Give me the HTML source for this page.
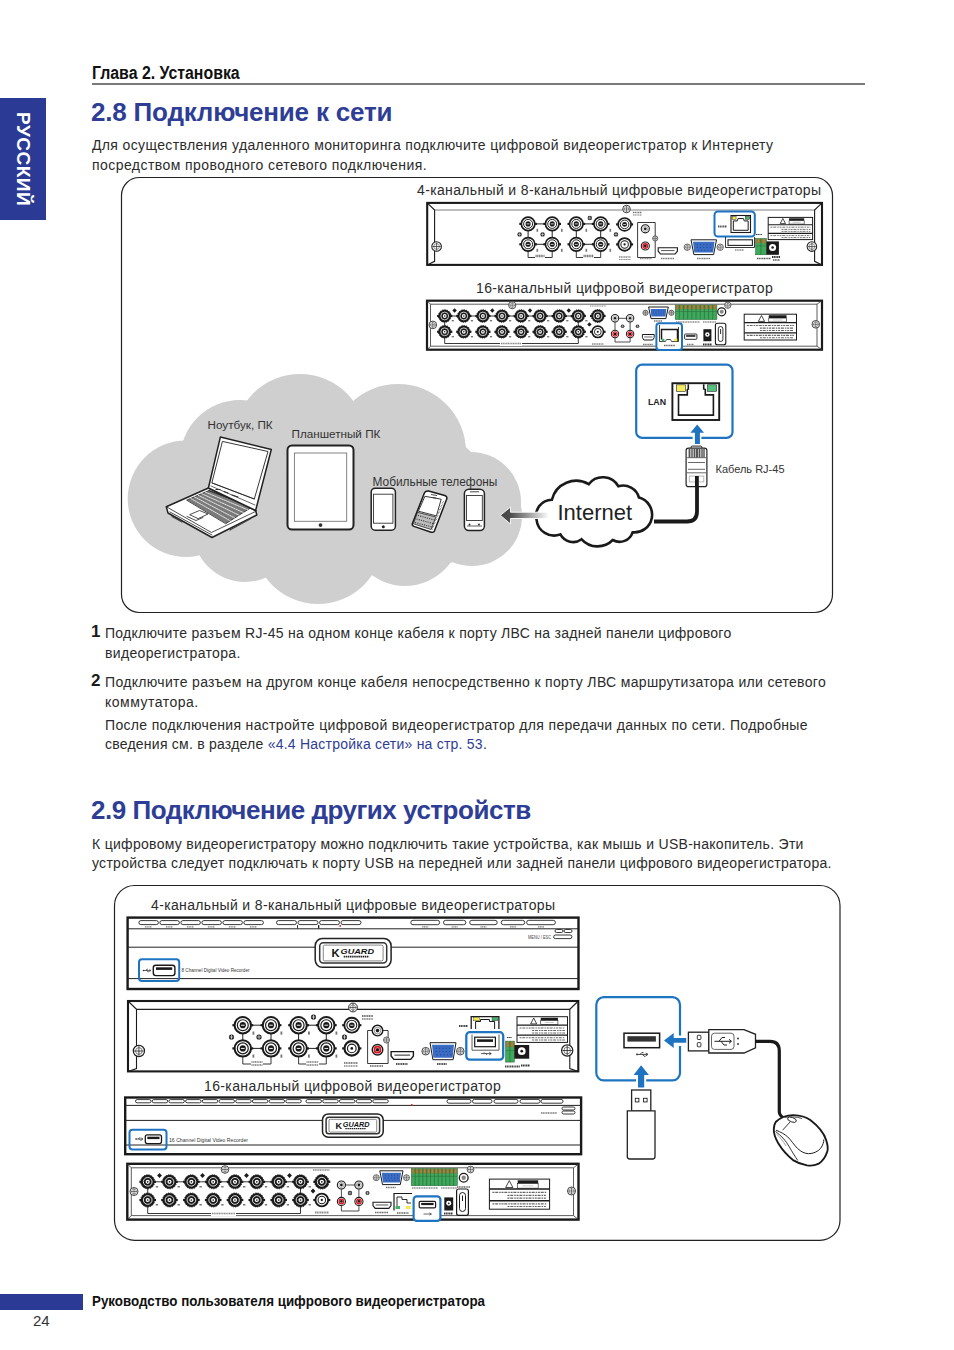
<!DOCTYPE html>
<html><head><meta charset="utf-8">
<style>
html,body{margin:0;padding:0;background:#fff;}
body{width:954px;height:1350px;position:relative;overflow:hidden;font-family:"Liberation Sans",sans-serif;color:#2a2a2a;}
.a{position:absolute;white-space:nowrap;}
.t{font-size:14px;line-height:20px;letter-spacing:0.33px;color:#2b2b2b;}
.h2{font-size:25px;font-weight:bold;color:#2e3d96;line-height:30px;}
.num{font-size:17px;font-weight:bold;color:#1a1a1a;line-height:20px;}
.cap{font-size:14px;line-height:20px;letter-spacing:0.3px;color:#2b2b2b;}
svg{position:absolute;left:0;top:0;}
</style></head><body>
<!-- side tab -->
<div class="a" style="left:0;top:98px;width:46px;height:122px;background:#2b3a94;"></div>
<div class="a" style="left:9.5px;top:112px;width:26px;height:98px;color:#fff;font-weight:bold;font-size:19px;line-height:26px;writing-mode:vertical-rl;letter-spacing:0.5px;">РУССКИЙ</div>

<!-- header -->
<div class="a" style="left:92px;top:62.6px;font-size:17.5px;font-weight:bold;line-height:20px;color:#111;transform-origin:0 0;transform:scaleX(0.907);">Глава 2. Установка</div>
<div class="a" style="left:92px;top:83px;width:773px;height:2px;background:#7a7a7a;"></div>

<div class="a h2" style="left:91px;top:96.9px;font-size:26px;letter-spacing:-0.2px;">2.8 Подключение к сети</div>
<div class="a t" style="left:92px;top:135px;letter-spacing:0.36px;">Для осуществления удаленного мониторинга подключите цифровой видеорегистратор к Интернету</div>
<div class="a t" style="left:92px;top:155px;letter-spacing:0.44px;">посредством проводного сетевого подключения.</div>

<div class="a num" style="left:91px;top:622px;">1</div>
<div class="a t" style="left:105px;top:623px;letter-spacing:0.28px;">Подключите разъем RJ-45 на одном конце кабеля к порту ЛВС на задней панели цифрового</div>
<div class="a t" style="left:105px;top:643px;">видеорегистратора.</div>
<div class="a num" style="left:91px;top:671px;">2</div>
<div class="a t" style="left:105px;top:672px;">Подключите разъем на другом конце кабеля непосредственно к порту ЛВС маршрутизатора или сетевого</div>
<div class="a t" style="left:105px;top:692px;letter-spacing:0.5px;">коммутатора.</div>
<div class="a t" style="left:105px;top:715px;">После подключения настройте цифровой видеорегистратор для передачи данных по сети. Подробные</div>
<div class="a t" style="left:105px;top:734px;letter-spacing:0.23px;">сведения см. в разделе <span style="color:#2e3d96">«4.4 Настройка сети» на стр. 53</span>.</div>

<div class="a h2" style="left:91px;top:794.8px;font-size:26px;letter-spacing:-0.48px;">2.9 Подключение других устройств</div>
<div class="a t" style="left:92px;top:834px;letter-spacing:0.30px;">К цифровому видеорегистратору можно подключить такие устройства, как мышь и USB-накопитель. Эти</div>
<div class="a t" style="left:92px;top:853px;letter-spacing:0.28px;">устройства следует подключать к порту USB на передней или задней панели цифрового видеорегистратора.</div>

<!-- footer -->
<div class="a" style="left:0;top:1294px;width:83px;height:16px;background:#2b3a94;"></div>
<div class="a" style="left:92px;top:1292px;font-size:14px;font-weight:bold;line-height:18px;color:#111;transform-origin:0 0;transform:scaleX(0.954);">Руководство пользователя цифрового видеорегистратора</div>
<div class="a" style="left:33px;top:1311.5px;font-size:15px;line-height:18px;color:#333;">24</div>

<svg width="954" height="1350" viewBox="0 0 954 1350"><rect x="121.5" y="177.5" width="711" height="435" rx="18" ry="18" fill="none" stroke="#222" stroke-width="1.2"/><rect x="427.2" y="202.9" width="394.80" height="62.00" fill="#fff" stroke="#1a1a1a" stroke-width="2.1"/><path d="M434.59999999999997 210.1H814.6" stroke="#a8a8a8" stroke-width="1.5"/><path d="M427.2 202.9L434.59999999999997 210.1V261.29999999999995L427.2 264.9" fill="none" stroke="#1a1a1a" stroke-width="1.1"/><path d="M822.0 202.9L814.6 210.1V261.29999999999995L822.0 264.9" fill="none" stroke="#1a1a1a" stroke-width="1.1"/><circle cx="436.6" cy="246.5" r="4.80" fill="#fff" stroke="#222" stroke-width="1.06"/><circle cx="436.6" cy="246.5" r="2.88" fill="none" stroke="#444" stroke-width="0.58"/><path d="M432.52 246.5H440.68M436.6 242.42V250.58" stroke="#333" stroke-width="0.77"/><circle cx="811.9" cy="246.6" r="4.80" fill="#fff" stroke="#222" stroke-width="1.06"/><circle cx="811.9" cy="246.6" r="2.88" fill="none" stroke="#444" stroke-width="0.58"/><path d="M807.82 246.6H815.98M811.9 242.52V250.68" stroke="#333" stroke-width="0.77"/><circle cx="626.5" cy="209.0" r="3.80" fill="#fff" stroke="#222" stroke-width="0.84"/><circle cx="626.5" cy="209.0" r="2.28" fill="none" stroke="#444" stroke-width="0.46"/><path d="M623.27 209.0H629.73M626.5 205.77V212.23" stroke="#333" stroke-width="0.61"/><path d="M528.1 223.9H552.2M576.3 223.9H600.7M528.1 244.3H552.2M576.3 244.3H600.7M528.1 223.9V244.3M552.2 223.9V244.3M576.3 223.9V244.3M600.7 223.9V244.3" stroke="#222" stroke-width="1"/><path d="M528.1 250V257.5H552.2V250M576.3 250V257.5H600.7V250" fill="none" stroke="#222" stroke-width="0.9"/><rect x="535" y="254.5" width="10" height="5" fill="#fff"/><rect x="583" y="254.5" width="11" height="5" fill="#fff"/><path d="M535.5 256H544.5" stroke="#777" stroke-width="2.5" stroke-dasharray="1.2 0.5"/><path d="M583.5 256H593.5" stroke="#777" stroke-width="2.5" stroke-dasharray="1.2 0.5"/><rect x="519.30" y="222.80" width="17.60" height="2.2" fill="#1a1a1a"/><circle cx="528.1" cy="223.9" r="6.75" fill="#fff" stroke="#1a1a1a" stroke-width="1.65"/><circle cx="528.1" cy="223.9" r="4.50" fill="none" stroke="#1a1a1a" stroke-width="0.98"/><circle cx="528.1" cy="223.9" r="2.55" fill="#1a1a1a"/><rect x="526.60" y="223.53" width="3.00" height="0.75" fill="#fff"/><rect x="519.30" y="243.20" width="17.60" height="2.2" fill="#1a1a1a"/><circle cx="528.1" cy="244.3" r="6.75" fill="#fff" stroke="#1a1a1a" stroke-width="1.65"/><circle cx="528.1" cy="244.3" r="4.50" fill="none" stroke="#1a1a1a" stroke-width="0.98"/><circle cx="528.1" cy="244.3" r="2.55" fill="#1a1a1a"/><rect x="526.60" y="243.93" width="3.00" height="0.75" fill="#fff"/><rect x="543.40" y="222.80" width="17.60" height="2.2" fill="#1a1a1a"/><circle cx="552.2" cy="223.9" r="6.75" fill="#fff" stroke="#1a1a1a" stroke-width="1.65"/><circle cx="552.2" cy="223.9" r="4.50" fill="none" stroke="#1a1a1a" stroke-width="0.98"/><circle cx="552.2" cy="223.9" r="2.55" fill="#1a1a1a"/><rect x="550.70" y="223.53" width="3.00" height="0.75" fill="#fff"/><rect x="543.40" y="243.20" width="17.60" height="2.2" fill="#1a1a1a"/><circle cx="552.2" cy="244.3" r="6.75" fill="#fff" stroke="#1a1a1a" stroke-width="1.65"/><circle cx="552.2" cy="244.3" r="4.50" fill="none" stroke="#1a1a1a" stroke-width="0.98"/><circle cx="552.2" cy="244.3" r="2.55" fill="#1a1a1a"/><rect x="550.70" y="243.93" width="3.00" height="0.75" fill="#fff"/><rect x="567.50" y="222.80" width="17.60" height="2.2" fill="#1a1a1a"/><circle cx="576.3" cy="223.9" r="6.75" fill="#fff" stroke="#1a1a1a" stroke-width="1.65"/><circle cx="576.3" cy="223.9" r="4.50" fill="none" stroke="#1a1a1a" stroke-width="0.98"/><circle cx="576.3" cy="223.9" r="2.55" fill="#1a1a1a"/><rect x="574.80" y="223.53" width="3.00" height="0.75" fill="#fff"/><rect x="567.50" y="243.20" width="17.60" height="2.2" fill="#1a1a1a"/><circle cx="576.3" cy="244.3" r="6.75" fill="#fff" stroke="#1a1a1a" stroke-width="1.65"/><circle cx="576.3" cy="244.3" r="4.50" fill="none" stroke="#1a1a1a" stroke-width="0.98"/><circle cx="576.3" cy="244.3" r="2.55" fill="#1a1a1a"/><rect x="574.80" y="243.93" width="3.00" height="0.75" fill="#fff"/><rect x="591.90" y="222.80" width="17.60" height="2.2" fill="#1a1a1a"/><circle cx="600.7" cy="223.9" r="6.75" fill="#fff" stroke="#1a1a1a" stroke-width="1.65"/><circle cx="600.7" cy="223.9" r="4.50" fill="none" stroke="#1a1a1a" stroke-width="0.98"/><circle cx="600.7" cy="223.9" r="2.55" fill="#1a1a1a"/><rect x="599.20" y="223.53" width="3.00" height="0.75" fill="#fff"/><rect x="591.90" y="243.20" width="17.60" height="2.2" fill="#1a1a1a"/><circle cx="600.7" cy="244.3" r="6.75" fill="#fff" stroke="#1a1a1a" stroke-width="1.65"/><circle cx="600.7" cy="244.3" r="4.50" fill="none" stroke="#1a1a1a" stroke-width="0.98"/><circle cx="600.7" cy="244.3" r="2.55" fill="#1a1a1a"/><rect x="599.20" y="243.93" width="3.00" height="0.75" fill="#fff"/><circle cx="519.6" cy="234.4" r="2.2" fill="#1a1a1a"/><path d="M517.84 234.4H521.36M519.6 232.64V236.16" stroke="#fff" stroke-width="0.55"/><circle cx="542.6" cy="234.4" r="2.2" fill="#1a1a1a"/><path d="M540.84 234.4H544.36M542.6 232.64V236.16" stroke="#fff" stroke-width="0.55"/><circle cx="589.8" cy="218.0" r="2.2" fill="#1a1a1a"/><path d="M588.04 218.0H591.56M589.8 216.24V219.76" stroke="#fff" stroke-width="0.55"/><circle cx="616.0" cy="234.4" r="2.2" fill="#1a1a1a"/><path d="M614.24 234.4H617.76M616.0 232.64V236.16" stroke="#fff" stroke-width="0.55"/><rect x="536.5" y="228.8" width="1.6" height="3" fill="#777"/><rect x="561" y="228.8" width="1.6" height="3" fill="#777"/><rect x="585.5" y="228.8" width="1.6" height="3" fill="#777"/><rect x="609.5" y="228.8" width="1.6" height="3" fill="#777"/><rect x="536.5" y="248.8" width="1.6" height="3" fill="#777"/><rect x="561" y="248.8" width="1.6" height="3" fill="#777"/><rect x="585.5" y="248.8" width="1.6" height="3" fill="#777"/><rect x="609.5" y="248.8" width="1.6" height="3" fill="#777"/><rect x="616.10" y="223.30" width="17.00" height="2.2" fill="#1a1a1a"/><circle cx="624.6" cy="224.4" r="6.48" fill="#fff" stroke="#1a1a1a" stroke-width="1.58"/><circle cx="624.6" cy="224.4" r="4.32" fill="none" stroke="#1a1a1a" stroke-width="0.94"/><circle cx="624.6" cy="224.4" r="2.45" fill="#1a1a1a"/><rect x="623.16" y="224.04" width="2.88" height="0.72" fill="#fff"/><rect x="616.10" y="243.30" width="17.00" height="2.2" fill="#1a1a1a"/><circle cx="624.6" cy="244.4" r="6.34" fill="#fff" stroke="#1a1a1a" stroke-width="1.87"/><circle cx="624.6" cy="244.4" r="3.74" fill="none" stroke="#1a1a1a" stroke-width="1.01"/><circle cx="624.6" cy="244.4" r="1.15" fill="#1a1a1a"/><path d="M633 212.5H642" stroke="#777" stroke-width="1.6" stroke-dasharray="1.2 0.5"/><path d="M633 215H642" stroke="#777" stroke-width="1.2" stroke-dasharray="1.2 0.5"/><path d="M619 257H631" stroke="#888" stroke-width="1.6" stroke-dasharray="1.2 0.5"/><path d="M619 259.5H631" stroke="#888" stroke-width="1.2" stroke-dasharray="1.2 0.5"/><path d="M637.6 222.5H655.2V257.5H637.6Z" fill="none" stroke="#222" stroke-width="0.9"/><circle cx="645.3" cy="228.8" r="4.05" fill="#fff" stroke="#1a1a1a" stroke-width="1.10"/><circle cx="645.3" cy="228.8" r="2.53" fill="none" stroke="#444" stroke-width="0.46"/><circle cx="645.3" cy="228.8" r="1.38" fill="#1a1a1a"/><circle cx="645.3" cy="246.0" r="4.05" fill="#fff" stroke="#1a1a1a" stroke-width="1.10"/><circle cx="645.3" cy="246.0" r="2.30" fill="none" stroke="#e0141e" stroke-width="1.38"/><circle cx="645.3" cy="246.0" r="1.38" fill="#1a1a1a"/><circle cx="655.2" cy="238.4" r="2.60" fill="#fff" stroke="#222" stroke-width="0.70"/><circle cx="655.2" cy="238.4" r="1.56" fill="none" stroke="#444" stroke-width="0.40"/><path d="M652.99 238.4H657.41M655.2 236.19V240.61" stroke="#333" stroke-width="0.50"/><path d="M640 258.5H652" stroke="#888" stroke-width="1.6" stroke-dasharray="1.2 0.5"/><path d="M658.2 247.8H677.4V251.21L675.10 254.0H660.50L658.2 251.21Z" fill="#fff" stroke="#1a1a1a" stroke-width="1.12"/><path d="M661.08 250.59H674.52" stroke="#1a1a1a" stroke-width="0.74"/><path d="M661 258.5H674" stroke="#777" stroke-width="1.6" stroke-dasharray="1.2 0.5"/><circle cx="687.3" cy="247.2" r="3.20" fill="#fff" stroke="#222" stroke-width="0.70"/><circle cx="687.3" cy="247.2" r="1.92" fill="none" stroke="#444" stroke-width="0.40"/><path d="M684.58 247.2H690.02M687.3 244.48V249.92" stroke="#333" stroke-width="0.51"/><circle cx="720.2" cy="247.2" r="3.20" fill="#fff" stroke="#222" stroke-width="0.70"/><circle cx="720.2" cy="247.2" r="1.92" fill="none" stroke="#444" stroke-width="0.40"/><path d="M717.48 247.2H722.92M720.2 244.48V249.92" stroke="#333" stroke-width="0.51"/><path d="M691.00 239.80H716.50L713.62 254.60H693.88Z" fill="#fff" stroke="#1a1a1a" stroke-width="1"/><path d="M693.00 241.80H714.50L713.15 252.60H694.35Z" fill="#3a6cc4"/><circle cx="697.17" cy="244.64" r="0.51" fill="#1b3f8a"/><circle cx="700.46" cy="244.64" r="0.51" fill="#1b3f8a"/><circle cx="703.75" cy="244.64" r="0.51" fill="#1b3f8a"/><circle cx="707.04" cy="244.64" r="0.51" fill="#1b3f8a"/><circle cx="710.33" cy="244.64" r="0.51" fill="#1b3f8a"/><circle cx="697.17" cy="247.46" r="0.51" fill="#1b3f8a"/><circle cx="700.46" cy="247.46" r="0.51" fill="#1b3f8a"/><circle cx="703.75" cy="247.46" r="0.51" fill="#1b3f8a"/><circle cx="707.04" cy="247.46" r="0.51" fill="#1b3f8a"/><circle cx="710.33" cy="247.46" r="0.51" fill="#1b3f8a"/><circle cx="698.11" cy="250.27" r="0.51" fill="#1b3f8a"/><circle cx="701.40" cy="250.27" r="0.51" fill="#1b3f8a"/><circle cx="704.69" cy="250.27" r="0.51" fill="#1b3f8a"/><circle cx="707.98" cy="250.27" r="0.51" fill="#1b3f8a"/><circle cx="711.27" cy="250.27" r="0.51" fill="#1b3f8a"/><path d="M697 258.5H710" stroke="#777" stroke-width="1.6" stroke-dasharray="1.2 0.5"/><rect x="714.5" y="211.4" width="40.3" height="25.1" rx="3.5" fill="#fff" stroke="#1f74c2" stroke-width="2"/><path d="M718 226.5H727" stroke="#555" stroke-width="1.8" stroke-dasharray="1.2 0.5"/><rect x="731.0" y="215.5" width="19.5" height="17.0" fill="#fff" stroke="#1a1a1a" stroke-width="1.1"/><rect x="732.17" y="216.52" width="3.90" height="2.89" fill="#f5e84a" stroke="#1a1a1a" stroke-width="0.44"/><rect x="745.43" y="216.52" width="3.90" height="2.89" fill="#3fb26a" stroke="#1a1a1a" stroke-width="0.44"/><path d="M733.34 230.29V220.94H737.24L738.02 218.56H743.48L744.26 220.94H748.16V230.29Z" fill="none" stroke="#1a1a1a" stroke-width="0.99"/><path d="M725.5 237V247.5H754.5V237" fill="none" stroke="#222" stroke-width="0.9"/><rect x="728" y="239.8" width="24.4" height="5.6" fill="#fff" stroke="#222" stroke-width="1.1"/><path d="M735 250H744" stroke="#888" stroke-width="1.4" stroke-dasharray="1.2 0.5"/><rect x="768.2" y="217.4" width="44.40" height="22.20" fill="#fff" stroke="#1a1a1a" stroke-width="1"/><path d="M780.19 223.62L782.85 218.51L785.52 223.62Z" fill="#fff" stroke="#1a1a1a" stroke-width="0.8"/><rect x="789.07" y="218.29" width="15.10" height="2.44" fill="#1a1a1a"/><rect x="789.07" y="220.73" width="15.10" height="3.33" fill="#fff" stroke="#1a1a1a" stroke-width="0.6"/><path d="M792.62 222.40H800.61" stroke="#999" stroke-width="0.5"/><path d="M768.2 224.73H812.6M768.2 233.38H812.6" stroke="#1a1a1a" stroke-width="1.11"/><path d="M770.42 227.17H810.38" stroke="#666" stroke-width="0.89" stroke-dasharray="2 0.8 3 1 1.5 0.8"/><path d="M781.52 229.39H810.38" stroke="#666" stroke-width="0.89" stroke-dasharray="2 0.8 3 1 1.5 0.8"/><path d="M781.52 231.39H810.38" stroke="#666" stroke-width="0.89" stroke-dasharray="2 0.8 3 1 1.5 0.8"/><path d="M770.42 235.60H810.38" stroke="#666" stroke-width="0.89" stroke-dasharray="2 0.8 3 1 1.5 0.8"/><path d="M781.52 237.60H810.38" stroke="#666" stroke-width="0.89" stroke-dasharray="2 0.8 3 1 1.5 0.8"/><rect x="755.6" y="238.6" width="10.70" height="16.20" fill="#3fa85c" stroke="#1d5c2c" stroke-width="0.5"/><rect x="755.6" y="238.6" width="10.70" height="4.86" fill="#6b8a4a"/><rect x="757.31" y="239.25" width="1.93" height="3.56" fill="#c8782a"/><rect x="762.66" y="239.25" width="1.93" height="3.56" fill="#c8782a"/><path d="M760.95 238.60V254.80" stroke="#1d5c2c" stroke-width="0.5"/><path d="M755.6 245.89H766.3" stroke="#2a6e3a" stroke-width="0.5"/><rect x="766.3" y="241.4" width="12.600000000000023" height="13.400000000000006" fill="#1a1a1a"/><circle cx="772.60" cy="247.43" r="3.53" fill="#fff"/><circle cx="772.60" cy="247.43" r="1.26" fill="#1a1a1a"/><path d="M757 258.5H771" stroke="#555" stroke-width="1.6" stroke-dasharray="1.2 0.5"/><path d="M772 257H780" stroke="#333" stroke-width="2.2" stroke-dasharray="1.2 0.5"/><path d="M773 260H780" stroke="#555" stroke-width="1.4" stroke-dasharray="1.2 0.5"/><path d="M756 234.5H762" stroke="#333" stroke-width="1.2" stroke-dasharray="1.2 0.5"/><rect x="427.0" y="300.7" width="395.0" height="49.0" fill="#fff" stroke="#1a1a1a" stroke-width="2.2"/><path d="M430.5 304.2H817.0V346.2H430.5Z" fill="none" stroke="#333" stroke-width="0.8"/><path d="M427.0 300.7L430.5 304.2M822.0 300.7L817.0 304.2M427.0 349.7L430.5 346.2M822.0 349.7L817.0 346.2" stroke="#333" stroke-width="0.8"/><circle cx="432.8" cy="324.9" r="3.80" fill="#fff" stroke="#222" stroke-width="0.84"/><circle cx="432.8" cy="324.9" r="2.28" fill="none" stroke="#444" stroke-width="0.46"/><path d="M429.57 324.9H436.03M432.8 321.67V328.13" stroke="#333" stroke-width="0.61"/><circle cx="815.8" cy="324.3" r="3.80" fill="#fff" stroke="#222" stroke-width="0.84"/><circle cx="815.8" cy="324.3" r="2.28" fill="none" stroke="#444" stroke-width="0.46"/><path d="M812.57 324.3H819.03M815.8 321.07V327.53" stroke="#333" stroke-width="0.61"/><circle cx="512.2" cy="305.2" r="3.60" fill="#fff" stroke="#222" stroke-width="0.79"/><circle cx="512.2" cy="305.2" r="2.16" fill="none" stroke="#444" stroke-width="0.43"/><path d="M509.14 305.2H515.26M512.2 302.14V308.26" stroke="#333" stroke-width="0.58"/><path d="M444.7 316H578.3M444.7 316V331.8M578.3 316V331.8" stroke="#222" stroke-width="0.9"/><path d="M444.7 336V343.5H578.3V336" fill="none" stroke="#222" stroke-width="0.9"/><rect x="500" y="341" width="22" height="5" fill="#fff"/><path d="M501 343.5H521" stroke="#888" stroke-width="1.4" stroke-dasharray="1.2 0.5"/><rect x="437.10" y="314.90" width="15.20" height="2.2" fill="#1a1a1a"/><circle cx="444.7" cy="316" r="6.3" fill="#1a1a1a" stroke="#1a1a1a" stroke-width="1" stroke-dasharray="1.2 1.2"/><circle cx="444.7" cy="316" r="3.91" fill="none" stroke="#fff" stroke-width="0.76"/><circle cx="444.7" cy="316" r="1.89" fill="#fff"/><circle cx="444.7" cy="316" r="0.76" fill="#1a1a1a"/><rect x="437.10" y="330.70" width="15.20" height="2.2" fill="#1a1a1a"/><circle cx="444.7" cy="331.8" r="6.3" fill="#1a1a1a" stroke="#1a1a1a" stroke-width="1" stroke-dasharray="1.2 1.2"/><circle cx="444.7" cy="331.8" r="3.91" fill="none" stroke="#fff" stroke-width="0.76"/><circle cx="444.7" cy="331.8" r="1.89" fill="#fff"/><circle cx="444.7" cy="331.8" r="0.76" fill="#1a1a1a"/><rect x="456.20" y="314.90" width="15.20" height="2.2" fill="#1a1a1a"/><circle cx="463.8" cy="316" r="6.3" fill="#1a1a1a" stroke="#1a1a1a" stroke-width="1" stroke-dasharray="1.2 1.2"/><circle cx="463.8" cy="316" r="3.91" fill="none" stroke="#fff" stroke-width="0.76"/><circle cx="463.8" cy="316" r="1.89" fill="#fff"/><circle cx="463.8" cy="316" r="0.76" fill="#1a1a1a"/><rect x="456.20" y="330.70" width="15.20" height="2.2" fill="#1a1a1a"/><circle cx="463.8" cy="331.8" r="6.3" fill="#1a1a1a" stroke="#1a1a1a" stroke-width="1" stroke-dasharray="1.2 1.2"/><circle cx="463.8" cy="331.8" r="3.91" fill="none" stroke="#fff" stroke-width="0.76"/><circle cx="463.8" cy="331.8" r="1.89" fill="#fff"/><circle cx="463.8" cy="331.8" r="0.76" fill="#1a1a1a"/><rect x="475.30" y="314.90" width="15.20" height="2.2" fill="#1a1a1a"/><circle cx="482.9" cy="316" r="6.3" fill="#1a1a1a" stroke="#1a1a1a" stroke-width="1" stroke-dasharray="1.2 1.2"/><circle cx="482.9" cy="316" r="3.91" fill="none" stroke="#fff" stroke-width="0.76"/><circle cx="482.9" cy="316" r="1.89" fill="#fff"/><circle cx="482.9" cy="316" r="0.76" fill="#1a1a1a"/><rect x="475.30" y="330.70" width="15.20" height="2.2" fill="#1a1a1a"/><circle cx="482.9" cy="331.8" r="6.3" fill="#1a1a1a" stroke="#1a1a1a" stroke-width="1" stroke-dasharray="1.2 1.2"/><circle cx="482.9" cy="331.8" r="3.91" fill="none" stroke="#fff" stroke-width="0.76"/><circle cx="482.9" cy="331.8" r="1.89" fill="#fff"/><circle cx="482.9" cy="331.8" r="0.76" fill="#1a1a1a"/><rect x="494.40" y="314.90" width="15.20" height="2.2" fill="#1a1a1a"/><circle cx="502.0" cy="316" r="6.3" fill="#1a1a1a" stroke="#1a1a1a" stroke-width="1" stroke-dasharray="1.2 1.2"/><circle cx="502.0" cy="316" r="3.91" fill="none" stroke="#fff" stroke-width="0.76"/><circle cx="502.0" cy="316" r="1.89" fill="#fff"/><circle cx="502.0" cy="316" r="0.76" fill="#1a1a1a"/><rect x="494.40" y="330.70" width="15.20" height="2.2" fill="#1a1a1a"/><circle cx="502.0" cy="331.8" r="6.3" fill="#1a1a1a" stroke="#1a1a1a" stroke-width="1" stroke-dasharray="1.2 1.2"/><circle cx="502.0" cy="331.8" r="3.91" fill="none" stroke="#fff" stroke-width="0.76"/><circle cx="502.0" cy="331.8" r="1.89" fill="#fff"/><circle cx="502.0" cy="331.8" r="0.76" fill="#1a1a1a"/><rect x="513.50" y="314.90" width="15.20" height="2.2" fill="#1a1a1a"/><circle cx="521.1" cy="316" r="6.3" fill="#1a1a1a" stroke="#1a1a1a" stroke-width="1" stroke-dasharray="1.2 1.2"/><circle cx="521.1" cy="316" r="3.91" fill="none" stroke="#fff" stroke-width="0.76"/><circle cx="521.1" cy="316" r="1.89" fill="#fff"/><circle cx="521.1" cy="316" r="0.76" fill="#1a1a1a"/><rect x="513.50" y="330.70" width="15.20" height="2.2" fill="#1a1a1a"/><circle cx="521.1" cy="331.8" r="6.3" fill="#1a1a1a" stroke="#1a1a1a" stroke-width="1" stroke-dasharray="1.2 1.2"/><circle cx="521.1" cy="331.8" r="3.91" fill="none" stroke="#fff" stroke-width="0.76"/><circle cx="521.1" cy="331.8" r="1.89" fill="#fff"/><circle cx="521.1" cy="331.8" r="0.76" fill="#1a1a1a"/><rect x="532.50" y="314.90" width="15.20" height="2.2" fill="#1a1a1a"/><circle cx="540.1" cy="316" r="6.3" fill="#1a1a1a" stroke="#1a1a1a" stroke-width="1" stroke-dasharray="1.2 1.2"/><circle cx="540.1" cy="316" r="3.91" fill="none" stroke="#fff" stroke-width="0.76"/><circle cx="540.1" cy="316" r="1.89" fill="#fff"/><circle cx="540.1" cy="316" r="0.76" fill="#1a1a1a"/><rect x="532.50" y="330.70" width="15.20" height="2.2" fill="#1a1a1a"/><circle cx="540.1" cy="331.8" r="6.3" fill="#1a1a1a" stroke="#1a1a1a" stroke-width="1" stroke-dasharray="1.2 1.2"/><circle cx="540.1" cy="331.8" r="3.91" fill="none" stroke="#fff" stroke-width="0.76"/><circle cx="540.1" cy="331.8" r="1.89" fill="#fff"/><circle cx="540.1" cy="331.8" r="0.76" fill="#1a1a1a"/><rect x="551.60" y="314.90" width="15.20" height="2.2" fill="#1a1a1a"/><circle cx="559.2" cy="316" r="6.3" fill="#1a1a1a" stroke="#1a1a1a" stroke-width="1" stroke-dasharray="1.2 1.2"/><circle cx="559.2" cy="316" r="3.91" fill="none" stroke="#fff" stroke-width="0.76"/><circle cx="559.2" cy="316" r="1.89" fill="#fff"/><circle cx="559.2" cy="316" r="0.76" fill="#1a1a1a"/><rect x="551.60" y="330.70" width="15.20" height="2.2" fill="#1a1a1a"/><circle cx="559.2" cy="331.8" r="6.3" fill="#1a1a1a" stroke="#1a1a1a" stroke-width="1" stroke-dasharray="1.2 1.2"/><circle cx="559.2" cy="331.8" r="3.91" fill="none" stroke="#fff" stroke-width="0.76"/><circle cx="559.2" cy="331.8" r="1.89" fill="#fff"/><circle cx="559.2" cy="331.8" r="0.76" fill="#1a1a1a"/><rect x="570.70" y="314.90" width="15.20" height="2.2" fill="#1a1a1a"/><circle cx="578.3" cy="316" r="6.3" fill="#1a1a1a" stroke="#1a1a1a" stroke-width="1" stroke-dasharray="1.2 1.2"/><circle cx="578.3" cy="316" r="3.91" fill="none" stroke="#fff" stroke-width="0.76"/><circle cx="578.3" cy="316" r="1.89" fill="#fff"/><circle cx="578.3" cy="316" r="0.76" fill="#1a1a1a"/><rect x="570.70" y="330.70" width="15.20" height="2.2" fill="#1a1a1a"/><circle cx="578.3" cy="331.8" r="6.3" fill="#1a1a1a" stroke="#1a1a1a" stroke-width="1" stroke-dasharray="1.2 1.2"/><circle cx="578.3" cy="331.8" r="3.91" fill="none" stroke="#fff" stroke-width="0.76"/><circle cx="578.3" cy="331.8" r="1.89" fill="#fff"/><circle cx="578.3" cy="331.8" r="0.76" fill="#1a1a1a"/><path d="M454.6 308.3L456.8 310.5L454.6 312.7L452.40000000000003 310.5Z" fill="#1a1a1a"/><path d="M492.3 308.3L494.5 310.5L492.3 312.7L490.1 310.5Z" fill="#1a1a1a"/><path d="M530.0 308.3L532.2 310.5L530.0 312.7L527.8 310.5Z" fill="#1a1a1a"/><path d="M568.8 308.3L571.0 310.5L568.8 312.7L566.5999999999999 310.5Z" fill="#1a1a1a"/><path d="M589.4 322.2L591.6 324.4L589.4 326.59999999999997L587.1999999999999 324.4Z" fill="#1a1a1a"/><rect x="451.7" y="320" width="2.2" height="1.4" fill="#777"/><rect x="451.7" y="336" width="2.2" height="1.4" fill="#777"/><rect x="470.8" y="320" width="2.2" height="1.4" fill="#777"/><rect x="470.8" y="336" width="2.2" height="1.4" fill="#777"/><rect x="489.9" y="320" width="2.2" height="1.4" fill="#777"/><rect x="489.9" y="336" width="2.2" height="1.4" fill="#777"/><rect x="509.0" y="320" width="2.2" height="1.4" fill="#777"/><rect x="509.0" y="336" width="2.2" height="1.4" fill="#777"/><rect x="528.1" y="320" width="2.2" height="1.4" fill="#777"/><rect x="528.1" y="336" width="2.2" height="1.4" fill="#777"/><rect x="547.1" y="320" width="2.2" height="1.4" fill="#777"/><rect x="547.1" y="336" width="2.2" height="1.4" fill="#777"/><rect x="566.2" y="320" width="2.2" height="1.4" fill="#777"/><rect x="566.2" y="336" width="2.2" height="1.4" fill="#777"/><rect x="585.3" y="320" width="2.2" height="1.4" fill="#777"/><rect x="585.3" y="336" width="2.2" height="1.4" fill="#777"/><rect x="590.00" y="314.90" width="15.60" height="2.2" fill="#1a1a1a"/><circle cx="597.8" cy="316" r="6.5" fill="#1a1a1a" stroke="#1a1a1a" stroke-width="1" stroke-dasharray="1.2 1.2"/><circle cx="597.8" cy="316" r="4.03" fill="none" stroke="#fff" stroke-width="0.78"/><circle cx="597.8" cy="316" r="1.95" fill="#fff"/><circle cx="597.8" cy="316" r="0.78" fill="#1a1a1a"/><rect x="590.00" y="330.70" width="15.60" height="2.2" fill="#1a1a1a"/><circle cx="597.8" cy="331.8" r="5.72" fill="#fff" stroke="#1a1a1a" stroke-width="1.69"/><circle cx="597.8" cy="331.8" r="3.38" fill="none" stroke="#1a1a1a" stroke-width="0.91"/><circle cx="597.8" cy="331.8" r="1.04" fill="#1a1a1a"/><path d="M590 306H606" stroke="#888" stroke-width="1.2" stroke-dasharray="1.2 0.5"/><path d="M592 344H604" stroke="#888" stroke-width="1.6" stroke-dasharray="1.2 0.5"/><path d="M615 318.3H630.1M615 334V342H630.1V334M615 318.3V334M630.1 318.3V334" fill="none" stroke="#222" stroke-width="0.8"/><circle cx="615" cy="318.3" r="3.70" fill="#fff" stroke="#1a1a1a" stroke-width="1.01"/><circle cx="615" cy="318.3" r="2.31" fill="none" stroke="#444" stroke-width="0.42"/><circle cx="615" cy="318.3" r="1.26" fill="#1a1a1a"/><circle cx="630.1" cy="318.3" r="3.70" fill="#fff" stroke="#1a1a1a" stroke-width="1.01"/><circle cx="630.1" cy="318.3" r="2.31" fill="none" stroke="#444" stroke-width="0.42"/><circle cx="630.1" cy="318.3" r="1.26" fill="#1a1a1a"/><circle cx="615" cy="334" r="3.70" fill="#fff" stroke="#1a1a1a" stroke-width="1.01"/><circle cx="615" cy="334" r="2.10" fill="none" stroke="#e0141e" stroke-width="1.26"/><circle cx="615" cy="334" r="1.26" fill="#1a1a1a"/><circle cx="630.1" cy="334" r="3.70" fill="#fff" stroke="#1a1a1a" stroke-width="1.01"/><circle cx="630.1" cy="334" r="2.10" fill="none" stroke="#e0141e" stroke-width="1.26"/><circle cx="630.1" cy="334" r="1.26" fill="#1a1a1a"/><circle cx="622.6" cy="326.2" r="1.8" fill="#1a1a1a"/><path d="M621.16 326.2H624.04M622.6 324.76V327.64" stroke="#fff" stroke-width="0.45"/><circle cx="637.5" cy="326.2" r="1.8" fill="#1a1a1a"/><path d="M636.06 326.2H638.94M637.5 324.76V327.64" stroke="#fff" stroke-width="0.45"/><circle cx="645.5" cy="312.8" r="2.60" fill="#fff" stroke="#222" stroke-width="0.70"/><circle cx="645.5" cy="312.8" r="1.56" fill="none" stroke="#444" stroke-width="0.40"/><path d="M643.29 312.8H647.71M645.5 310.59V315.01" stroke="#333" stroke-width="0.50"/><circle cx="671.4" cy="312.8" r="2.60" fill="#fff" stroke="#222" stroke-width="0.70"/><circle cx="671.4" cy="312.8" r="1.56" fill="none" stroke="#444" stroke-width="0.40"/><path d="M669.19 312.8H673.61M671.4 310.59V315.01" stroke="#333" stroke-width="0.50"/><path d="M648.60 307.00H668.30L665.88 318.60H651.02Z" fill="#fff" stroke="#1a1a1a" stroke-width="1"/><path d="M650.60 309.00H666.30L665.53 316.60H651.37Z" fill="#3a6cc4"/><circle cx="653.49" cy="310.88" r="0.40" fill="#1b3f8a"/><circle cx="655.97" cy="310.88" r="0.40" fill="#1b3f8a"/><circle cx="658.45" cy="310.88" r="0.40" fill="#1b3f8a"/><circle cx="660.93" cy="310.88" r="0.40" fill="#1b3f8a"/><circle cx="663.41" cy="310.88" r="0.40" fill="#1b3f8a"/><circle cx="653.49" cy="312.99" r="0.40" fill="#1b3f8a"/><circle cx="655.97" cy="312.99" r="0.40" fill="#1b3f8a"/><circle cx="658.45" cy="312.99" r="0.40" fill="#1b3f8a"/><circle cx="660.93" cy="312.99" r="0.40" fill="#1b3f8a"/><circle cx="663.41" cy="312.99" r="0.40" fill="#1b3f8a"/><circle cx="654.20" cy="315.10" r="0.40" fill="#1b3f8a"/><circle cx="656.68" cy="315.10" r="0.40" fill="#1b3f8a"/><circle cx="659.16" cy="315.10" r="0.40" fill="#1b3f8a"/><circle cx="661.64" cy="315.10" r="0.40" fill="#1b3f8a"/><circle cx="664.11" cy="315.10" r="0.40" fill="#1b3f8a"/><path d="M654 321H662" stroke="#777" stroke-width="1.3" stroke-dasharray="1.2 0.5"/><rect x="675.2" y="305.0" width="41.70" height="14.50" fill="#3fa85c" stroke="#1d5c2c" stroke-width="0.5"/><rect x="675.2" y="305.0" width="41.70" height="4.35" fill="#6b8a4a"/><rect x="676.53" y="305.58" width="1.50" height="3.19" fill="#c8782a"/><rect x="680.70" y="305.58" width="1.50" height="3.19" fill="#c8782a"/><rect x="684.87" y="305.58" width="1.50" height="3.19" fill="#c8782a"/><rect x="689.04" y="305.58" width="1.50" height="3.19" fill="#c8782a"/><rect x="693.21" y="305.58" width="1.50" height="3.19" fill="#c8782a"/><rect x="697.38" y="305.58" width="1.50" height="3.19" fill="#c8782a"/><rect x="701.55" y="305.58" width="1.50" height="3.19" fill="#c8782a"/><rect x="705.72" y="305.58" width="1.50" height="3.19" fill="#c8782a"/><rect x="709.89" y="305.58" width="1.50" height="3.19" fill="#c8782a"/><rect x="714.06" y="305.58" width="1.50" height="3.19" fill="#c8782a"/><path d="M679.37 305.00V319.50" stroke="#1d5c2c" stroke-width="0.5"/><path d="M683.54 305.00V319.50" stroke="#1d5c2c" stroke-width="0.5"/><path d="M687.71 305.00V319.50" stroke="#1d5c2c" stroke-width="0.5"/><path d="M691.88 305.00V319.50" stroke="#1d5c2c" stroke-width="0.5"/><path d="M696.05 305.00V319.50" stroke="#1d5c2c" stroke-width="0.5"/><path d="M700.22 305.00V319.50" stroke="#1d5c2c" stroke-width="0.5"/><path d="M704.39 305.00V319.50" stroke="#1d5c2c" stroke-width="0.5"/><path d="M708.56 305.00V319.50" stroke="#1d5c2c" stroke-width="0.5"/><path d="M712.73 305.00V319.50" stroke="#1d5c2c" stroke-width="0.5"/><path d="M675.2 311.52H716.9" stroke="#2a6e3a" stroke-width="0.5"/><path d="M676 322H700" stroke="#555" stroke-width="1.2" stroke-dasharray="1.2 0.5"/><path d="M703 322H716" stroke="#555" stroke-width="1.2" stroke-dasharray="1.2 0.5"/><circle cx="721.7" cy="311.8" r="4" fill="#fff" stroke="#1a1a1a" stroke-width="1.2"/><circle cx="721.7" cy="311.8" r="2" fill="#888"/><circle cx="727.8" cy="305.2" r="3.20" fill="#fff" stroke="#222" stroke-width="0.70"/><circle cx="727.8" cy="305.2" r="1.92" fill="none" stroke="#444" stroke-width="0.40"/><path d="M725.08 305.2H730.52M727.8 302.48V307.92" stroke="#333" stroke-width="0.51"/><path d="M642.4 334.5H654.2V337.52L652.78 340.0H643.82L642.4 337.52Z" fill="#fff" stroke="#1a1a1a" stroke-width="1.00"/><path d="M644.17 336.98H652.43" stroke="#1a1a1a" stroke-width="0.66"/><path d="M643 344.5H653" stroke="#777" stroke-width="1.3" stroke-dasharray="1.2 0.5"/><rect x="656.4" y="323.2" width="25.6" height="26.8" rx="3" fill="#fff" stroke="#1f74c2" stroke-width="2"/><path d="M659.5 325V341.5H665.5L666.5 339.5H670.5L671.5 341.5H678.5V327" fill="none" stroke="#1a1a1a" stroke-width="0.8"/><path d="M661.5 339.5V329.5H677.5V341.5" fill="none" stroke="#1a1a1a" stroke-width="1.5"/><rect x="661.8" y="338.8" width="2.6" height="2.4" fill="#3fb26a"/><rect x="674.2" y="338.8" width="3.2" height="2.4" fill="#f5e84a"/><path d="M664 345.5H675" stroke="#666" stroke-width="1.4" stroke-dasharray="1.2 0.5"/><rect x="684.6" y="334.0" width="12.299999999999955" height="5.300000000000011" rx="0.80" fill="#fff" stroke="#1a1a1a" stroke-width="0.9"/><rect x="686.08" y="335.17" width="9.35" height="1.59" fill="#1a1a1a"/><path d="M687 344.5H694" stroke="#777" stroke-width="1.3" stroke-dasharray="1.2 0.5"/><rect x="703.4" y="329.2" width="8.0" height="12.0" fill="#1a1a1a"/><circle cx="707.40" cy="334.60" r="2.24" fill="#fff"/><circle cx="707.40" cy="334.60" r="0.80" fill="#1a1a1a"/><path d="M703 344.5H712" stroke="#333" stroke-width="1.8" stroke-dasharray="1.2 0.5"/><rect x="715.4" y="323.2" width="10.4" height="21.6" rx="2" fill="#fff" stroke="#1a1a1a" stroke-width="1.1"/><rect x="718.3" y="326.5" width="4.6" height="15" rx="2.3" fill="#fff" stroke="#1a1a1a" stroke-width="0.9"/><path d="M720.6 329V334" stroke="#1a1a1a" stroke-width="0.9"/><rect x="744.2" y="314.2" width="52.30" height="25.80" fill="#fff" stroke="#1a1a1a" stroke-width="1"/><path d="M758.32 321.42L761.46 315.49L764.60 321.42Z" fill="#fff" stroke="#1a1a1a" stroke-width="0.8"/><rect x="768.78" y="315.23" width="17.78" height="2.84" fill="#1a1a1a"/><rect x="768.78" y="318.07" width="17.78" height="3.87" fill="#fff" stroke="#1a1a1a" stroke-width="0.6"/><path d="M772.97 320.00H782.38" stroke="#999" stroke-width="0.5"/><path d="M744.2 322.71H796.5M744.2 332.78H796.5" stroke="#1a1a1a" stroke-width="1.29"/><path d="M746.82 325.55H793.88" stroke="#666" stroke-width="1.03" stroke-dasharray="2 0.8 3 1 1.5 0.8"/><path d="M759.89 328.13H793.88" stroke="#666" stroke-width="1.03" stroke-dasharray="2 0.8 3 1 1.5 0.8"/><path d="M759.89 330.45H793.88" stroke="#666" stroke-width="1.03" stroke-dasharray="2 0.8 3 1 1.5 0.8"/><path d="M746.82 335.36H793.88" stroke="#666" stroke-width="1.03" stroke-dasharray="2 0.8 3 1 1.5 0.8"/><path d="M759.89 337.68H793.88" stroke="#666" stroke-width="1.03" stroke-dasharray="2 0.8 3 1 1.5 0.8"/><g fill="#cfcfcf"><circle cx="186" cy="498.7" r="58.3"/><circle cx="240" cy="460" r="60"/><circle cx="300" cy="440" r="66"/><circle cx="398" cy="452" r="68"/><circle cx="471" cy="502" r="50"/><circle cx="245" cy="530" r="52"/><circle cx="318" cy="539" r="65"/><circle cx="405" cy="530" r="56"/><circle cx="472" cy="516" r="50"/><circle cx="330" cy="495" r="90"/><circle cx="420" cy="500" r="70"/><circle cx="230" cy="500" r="60"/></g><g stroke="#222" stroke-linejoin="round" stroke-linecap="round"><path d="M208.4 488L255.6 510.5L256.8 515L212 537.5L168 513L166.3 506.7Z" fill="#fff" stroke-width="1.5"/><path d="M166.3 506.7L211.5 532.5L256.5 511M170 512L212 535" fill="none" stroke-width="0.8"/><path d="M187 500L209 490.5L252 507L226 523.5Z" fill="#7a7a7a" stroke-width="0.8"/><path d="M205.3 492.1L247.7 509.8M201.7 493.7L243.3 512.5M198.0 495.2L239.0 515.2M194.3 496.8L234.7 518.0M190.7 498.4L230.3 520.8" fill="none" stroke="#eee" stroke-width="0.9" stroke-dasharray="1.6 0.9"/><path d="M209 490.5L252 507" stroke-width="0.9"/><path d="M190 514.5L199.5 510.5L208 514L198.5 518.5Z" fill="#fff" stroke-width="0.8"/><path d="M187 516.5L196 520.5L203 517.5" fill="none" stroke-width="0.8"/><path d="M172 516.5L182 522M230 530L250 519" stroke="#444" stroke-width="1.2"/><path d="M220.4 436.9L271.3 449.5L255.6 510.5L208.4 488Z" fill="#fff" stroke-width="1.5"/><path d="M222.8 441.5L268 451.5L254.3 499L212.2 483Z" fill="#fff" stroke-width="0.9"/><path d="M212.2 483L254.3 499M211 486L255 505" fill="none" stroke-width="0.7"/><path d="M216 489.5H220M224 491.5L228 493M232 495L238 497" stroke="#333" stroke-width="1.1"/></g><rect x="287.5" y="445.5" width="66" height="84" rx="4.5" fill="#fff" stroke="#222" stroke-width="2"/><rect x="294.4" y="453" width="52.3" height="68.3" fill="#fff" stroke="#777" stroke-width="0.9"/><circle cx="320.5" cy="525.1" r="1.9" fill="#333"/><rect x="371.2" y="488.2" width="24.2" height="42" rx="4" fill="#fff" stroke="#222" stroke-width="1.5"/><rect x="373.5" y="494.2" width="19.4" height="29" fill="#fff" stroke="#333" stroke-width="0.9"/><circle cx="383.3" cy="526.8" r="1.5" fill="#222"/><path d="M425.4 491.8Q426.5 490.8 428.5 491L444.8 495.5Q447.2 496.4 446.9 498.5L434.4 531.1Q433.3 532.8 431.2 532.2L413.9 526.4Q411.8 525.5 412.3 523.8L424.4 492.9Z" fill="#fff" stroke="#1a1a1a" stroke-width="1.5" stroke-linejoin="round"/><path d="M424.9 496.3L441.2 499.2L436.4 515.9L418.4 511.2Z" fill="#fff" stroke="#222" stroke-width="0.9"/><path d="M417.6 512.3L435.9 517L431.2 529.5L413.4 523.8Z" fill="#bdbdbd" stroke="#222" stroke-width="0.8"/><path d="M418 515.5L434.5 520M416.5 519L433.3 523.6M415 522.5L432 527" stroke="#333" stroke-width="1.1" stroke-dasharray="1.1 1.2"/><path d="M443.5 501L432 529.5" stroke="#555" stroke-width="1.4" stroke-dasharray="0.6 0.9"/><path d="M431 494.5L437 495.5M432.5 497.5L436 498" stroke="#333" stroke-width="0.9"/><rect x="464.4" y="489.2" width="20" height="41.4" rx="4.5" fill="#fff" stroke="#222" stroke-width="1.5"/><rect x="466.5" y="495.5" width="15.8" height="25" fill="#fff" stroke="#333" stroke-width="0.9"/><path d="M470 491.8H479" stroke="#333" stroke-width="0.9"/><path d="M467 526H482" stroke="#333" stroke-width="0.8"/><circle cx="469.5" cy="524.5" r="0.9" fill="#222"/><circle cx="479" cy="524.5" r="0.9" fill="#222"/><path d="M536.5 519.5A16 16 0 0 1 551.9 499.7A24.9 24.9 0 0 1 588.7 484.2A17.9 17.9 0 0 1 618.4 486.3A16.3 16.3 0 0 1 639.0 497.6A17.7 17.7 0 0 1 632.6 532.3A13.7 13.7 0 0 1 612.8 540.0A21.5 21.5 0 0 1 581.6 539.3A14.4 14.4 0 0 1 560.4 534.4A17.7 17.7 0 0 1 536.5 519.5Z" fill="#fff" stroke="#1a1a1a" stroke-width="2.6"/><defs><linearGradient id="ga" gradientUnits="userSpaceOnUse" x1="500" y1="0" x2="549" y2="0"><stop offset="0" stop-color="#474747"/><stop offset="0.22" stop-color="#4d4d4d"/><stop offset="0.6" stop-color="#a0a0a0"/><stop offset="1" stop-color="#ffffff"/></linearGradient></defs><path d="M500.3 515.3L510.5 507.1V512.2H549V518.5H510.5V524Z" fill="url(#ga)" stroke="#fff" stroke-width="0.9" stroke-linejoin="miter"/><path d="M654 521.5H687Q697 521.5 697 511.5V476" fill="none" stroke="#1a1a1a" stroke-width="3.8"/><rect x="636.2" y="364.6" width="96.3" height="73.3" rx="6" fill="#fff" stroke="#1f74c2" stroke-width="2.2"/><rect x="692.6" y="435" width="8.8" height="5" fill="#fff"/><path d="M690.4 432.8L697.2 424.4L704 432.8H699.9V443.9H694.9V432.8Z" fill="#1f74c2"/><rect x="672.4" y="383.2" width="46.8" height="36.8" fill="#fff" stroke="#1a1a1a" stroke-width="1.9"/><rect x="676.6" y="384.8" width="8.7" height="6.5" fill="#f7ec5a" stroke="#222" stroke-width="0.6"/><rect x="707.6" y="384.8" width="9" height="6.5" fill="#55c07f" stroke="#222" stroke-width="0.6"/><path d="M688.3 384.3V389L687.3 389.6V394.9H678.5V415.1H713.4V394.9H705.3V389.6L703.7 389V384.3" fill="none" stroke="#1a1a1a" stroke-width="1.6"/><g stroke="#222" fill="#fff"><rect x="691.1" y="446.1" width="10.8" height="3" rx="1" stroke-width="1"/><rect x="686.1" y="448.1" width="20.8" height="38.6" rx="2.5" stroke-width="1.2"/></g><rect x="688" y="449" width="17" height="8.5" fill="#bbb"/><path d="M689.5 449V457.5M692 449V457.5M694.5 449V457.5M697 449V457.5M699.5 449V457.5M702 449V457.5M704 449V457.5" stroke="#555" stroke-width="1.1"/><path d="M697 449V457.5" stroke="#111" stroke-width="0.8"/><path d="M687 457.7H706M688 462.5H705M688 469.3H705M687 472.8H706" stroke="#444" stroke-width="0.8"/><rect x="689.3" y="476.1" width="14.5" height="5.8" fill="none" stroke="#aaa" stroke-width="0.8"/><path d="M696.9 476V487" stroke="#1a1a1a" stroke-width="3.8"/><rect x="114.5" y="885.5" width="725.5" height="354.8" rx="20" ry="20" fill="none" stroke="#222" stroke-width="1.2"/><rect x="127.6" y="917.6" width="450.9" height="71.4" fill="#fff" stroke="#1a1a1a" stroke-width="2.4"/><path d="M127.6 928.8H578.5M127.6 947.2H578.5M127.6 978.6H578.5" stroke="#222" stroke-width="1"/><rect x="138.9" y="920.6" width="19.5" height="4.0" rx="2.0" fill="#fff" stroke="#222" stroke-width="0.9"/><path d="M144.9 926.8H151.9" stroke="#777" stroke-width="1.2" stroke-dasharray="1.2 0.5"/><rect x="159.9" y="920.6" width="19.5" height="4.0" rx="2.0" fill="#fff" stroke="#222" stroke-width="0.9"/><path d="M165.9 926.8H172.9" stroke="#777" stroke-width="1.2" stroke-dasharray="1.2 0.5"/><rect x="180.9" y="920.6" width="19.5" height="4.0" rx="2.0" fill="#fff" stroke="#222" stroke-width="0.9"/><path d="M186.9 926.8H193.9" stroke="#777" stroke-width="1.2" stroke-dasharray="1.2 0.5"/><rect x="201.9" y="920.6" width="19.5" height="4.0" rx="2.0" fill="#fff" stroke="#222" stroke-width="0.9"/><path d="M207.9 926.8H214.9" stroke="#777" stroke-width="1.2" stroke-dasharray="1.2 0.5"/><rect x="222.9" y="920.6" width="19.5" height="4.0" rx="2.0" fill="#fff" stroke="#222" stroke-width="0.9"/><path d="M228.9 926.8H235.9" stroke="#777" stroke-width="1.2" stroke-dasharray="1.2 0.5"/><rect x="243.9" y="920.6" width="19.5" height="4.0" rx="2.0" fill="#fff" stroke="#222" stroke-width="0.9"/><path d="M249.9 926.8H256.9" stroke="#777" stroke-width="1.2" stroke-dasharray="1.2 0.5"/><rect x="276.5" y="920.6" width="20.0" height="4.0" rx="2.0" fill="#fff" stroke="#222" stroke-width="0.9"/><rect x="298.0" y="920.6" width="20.0" height="4.0" rx="2.0" fill="#fff" stroke="#222" stroke-width="0.9"/><rect x="319.5" y="920.6" width="20.0" height="4.0" rx="2.0" fill="#fff" stroke="#222" stroke-width="0.9"/><rect x="341.0" y="920.6" width="20.0" height="4.0" rx="2.0" fill="#fff" stroke="#222" stroke-width="0.9"/><rect x="297" y="925" width="0.9" height="3.5" fill="#222"/><rect x="318" y="925" width="1.3" height="3.5" fill="#222"/><rect x="339.5" y="925" width="1.4" height="2" fill="#e33"/><rect x="410.8" y="920.3" width="28.8" height="4.4" rx="2.2" fill="#fff" stroke="#222" stroke-width="0.9"/><path d="M422.20000000000005 926.8H428.20000000000005" stroke="#777" stroke-width="1.2" stroke-dasharray="1.2 0.5"/><rect x="443.5" y="920.3" width="22.3" height="4.4" rx="2.2" fill="#fff" stroke="#222" stroke-width="0.9"/><path d="M451.65 926.8H457.65" stroke="#777" stroke-width="1.2" stroke-dasharray="1.2 0.5"/><rect x="469.7" y="920.3" width="27.5" height="4.4" rx="2.2" fill="#fff" stroke="#222" stroke-width="0.9"/><path d="M480.45 926.8H486.45" stroke="#777" stroke-width="1.2" stroke-dasharray="1.2 0.5"/><rect x="501.2" y="920.3" width="23.5" height="4.4" rx="2.2" fill="#fff" stroke="#222" stroke-width="0.9"/><path d="M509.95000000000005 926.8H515.95" stroke="#777" stroke-width="1.2" stroke-dasharray="1.2 0.5"/><rect x="526.6" y="920.3" width="28.8" height="4.4" rx="2.2" fill="#fff" stroke="#222" stroke-width="0.9"/><path d="M538.0 926.8H544.0" stroke="#777" stroke-width="1.2" stroke-dasharray="1.2 0.5"/><rect x="553.6" y="935" width="18.3" height="3.6" rx="1.8" fill="#fff" stroke="#222" stroke-width="0.9"/><rect x="555" y="929.5" width="8.0" height="3.0" rx="1.5" fill="#fff" stroke="#222" stroke-width="0.9"/><rect x="564" y="929.5" width="8.0" height="3.0" rx="1.5" fill="#fff" stroke="#222" stroke-width="0.9"/><text x="528" y="938.5" font-family="Liberation Sans" font-size="4.8" fill="#444" textLength="23" lengthAdjust="spacingAndGlyphs">MENU / ESC</text><rect x="315.2" y="938.5" width="75.9" height="28.8" rx="7.2" fill="#fff" stroke="#222" stroke-width="1.5"/><rect x="319.7" y="942.7" width="67.0" height="20.4" rx="3.5" fill="#fff" stroke="#333" stroke-width="1.5"/><rect x="323.3" y="945.1" width="59.8" height="15.8" rx="1.4" fill="#fff" stroke="#555" stroke-width="0.7"/><text x="331.5" y="957.4" font-family="Liberation Sans" font-weight="bold" font-size="11.2" fill="#111">K</text><text x="340.6" y="954.2" font-family="Liberation Sans" font-weight="bold" font-style="italic" font-size="7.8" fill="#111" textLength="33.4" lengthAdjust="spacingAndGlyphs">GUARD</text><path d="M343.7 956.6H369.1" stroke="#222" stroke-width="1.73" stroke-dasharray="1.5 0.6"/><rect x="139" y="959.3" width="40.2" height="21.8" rx="3" fill="none" stroke="#1f74c2" stroke-width="2"/><rect x="153.3" y="965.2" width="21.6" height="10.4" rx="2.5" fill="#fff" stroke="#1a1a1a" stroke-width="1.4"/><rect x="156" y="967.3" width="16.2" height="2.6" fill="#1a1a1a"/><path d="M143.5 970.5H150.5M149.3 969.5L151 970.5L149.3 971.5M145.5 970.5L147 969.2H148M146.5 970.5L148 971.8H149" fill="none" stroke="#333" stroke-width="0.7"/><circle cx="143.5" cy="970.5" r="0.8" fill="#333"/><text x="181.5" y="972.3" font-family="Liberation Sans" font-size="5.6" fill="#333" textLength="68" lengthAdjust="spacingAndGlyphs">8 Channel Digital Video Recorder</text><rect x="128.0" y="1001.0" width="450.30" height="70.40" fill="#fff" stroke="#1a1a1a" stroke-width="2.1"/><path d="M136.5 1009.3H569.8" stroke="#222" stroke-width="1.2"/><path d="M128.0 1001.0L136.5 1009.3V1068.6000000000001L128.0 1071.4" fill="none" stroke="#1a1a1a" stroke-width="1.1"/><path d="M578.3 1001.0L569.8 1009.3V1068.6000000000001L578.3 1071.4" fill="none" stroke="#1a1a1a" stroke-width="1.1"/><circle cx="138.9" cy="1051" r="5.60" fill="#fff" stroke="#222" stroke-width="1.23"/><circle cx="138.9" cy="1051" r="3.36" fill="none" stroke="#444" stroke-width="0.67"/><path d="M134.14 1051H143.66M138.9 1046.24V1055.76" stroke="#333" stroke-width="0.90"/><circle cx="567.2" cy="1050.5" r="5.60" fill="#fff" stroke="#222" stroke-width="1.23"/><circle cx="567.2" cy="1050.5" r="3.36" fill="none" stroke="#444" stroke-width="0.67"/><path d="M562.44 1050.5H571.96M567.2 1045.74V1055.26" stroke="#333" stroke-width="0.90"/><circle cx="353" cy="1007.5" r="4.40" fill="#fff" stroke="#222" stroke-width="0.97"/><circle cx="353" cy="1007.5" r="2.64" fill="none" stroke="#444" stroke-width="0.53"/><path d="M349.26 1007.5H356.74M353 1003.76V1011.24" stroke="#333" stroke-width="0.70"/><path d="M242.8 1025.2H271M298.6 1025.2H326.3M242.8 1048.4H271M298.6 1048.4H326.3M242.8 1025.2V1048.4M271 1025.2V1048.4M298.6 1025.2V1048.4M326.3 1025.2V1048.4" stroke="#222" stroke-width="1"/><path d="M242.8 1055V1064H271V1055M298.6 1055V1064H326.3V1055" fill="none" stroke="#222" stroke-width="0.9"/><rect x="251" y="1060" width="12" height="8" fill="#fff"/><rect x="306" y="1060" width="13" height="8" fill="#fff"/><path d="M251.5 1062H262.5" stroke="#777" stroke-width="1.6" stroke-dasharray="1.2 0.5"/><path d="M251.5 1065H262.5" stroke="#777" stroke-width="1.4" stroke-dasharray="1.2 0.5"/><path d="M306.5 1062H318.5" stroke="#777" stroke-width="1.6" stroke-dasharray="1.2 0.5"/><path d="M306.5 1065H318.5" stroke="#777" stroke-width="1.4" stroke-dasharray="1.2 0.5"/><rect x="232.40" y="1024.10" width="20.80" height="2.2" fill="#1a1a1a"/><circle cx="242.8" cy="1025.2" r="8.19" fill="#fff" stroke="#1a1a1a" stroke-width="2.00"/><circle cx="242.8" cy="1025.2" r="5.46" fill="none" stroke="#1a1a1a" stroke-width="1.18"/><circle cx="242.8" cy="1025.2" r="3.09" fill="#1a1a1a"/><rect x="240.98" y="1024.75" width="3.64" height="0.91" fill="#fff"/><rect x="232.40" y="1047.30" width="20.80" height="2.2" fill="#1a1a1a"/><circle cx="242.8" cy="1048.4" r="8.19" fill="#fff" stroke="#1a1a1a" stroke-width="2.00"/><circle cx="242.8" cy="1048.4" r="5.46" fill="none" stroke="#1a1a1a" stroke-width="1.18"/><circle cx="242.8" cy="1048.4" r="3.09" fill="#1a1a1a"/><rect x="240.98" y="1047.95" width="3.64" height="0.91" fill="#fff"/><rect x="260.60" y="1024.10" width="20.80" height="2.2" fill="#1a1a1a"/><circle cx="271.0" cy="1025.2" r="8.19" fill="#fff" stroke="#1a1a1a" stroke-width="2.00"/><circle cx="271.0" cy="1025.2" r="5.46" fill="none" stroke="#1a1a1a" stroke-width="1.18"/><circle cx="271.0" cy="1025.2" r="3.09" fill="#1a1a1a"/><rect x="269.18" y="1024.75" width="3.64" height="0.91" fill="#fff"/><rect x="260.60" y="1047.30" width="20.80" height="2.2" fill="#1a1a1a"/><circle cx="271.0" cy="1048.4" r="8.19" fill="#fff" stroke="#1a1a1a" stroke-width="2.00"/><circle cx="271.0" cy="1048.4" r="5.46" fill="none" stroke="#1a1a1a" stroke-width="1.18"/><circle cx="271.0" cy="1048.4" r="3.09" fill="#1a1a1a"/><rect x="269.18" y="1047.95" width="3.64" height="0.91" fill="#fff"/><rect x="288.20" y="1024.10" width="20.80" height="2.2" fill="#1a1a1a"/><circle cx="298.6" cy="1025.2" r="8.19" fill="#fff" stroke="#1a1a1a" stroke-width="2.00"/><circle cx="298.6" cy="1025.2" r="5.46" fill="none" stroke="#1a1a1a" stroke-width="1.18"/><circle cx="298.6" cy="1025.2" r="3.09" fill="#1a1a1a"/><rect x="296.78" y="1024.75" width="3.64" height="0.91" fill="#fff"/><rect x="288.20" y="1047.30" width="20.80" height="2.2" fill="#1a1a1a"/><circle cx="298.6" cy="1048.4" r="8.19" fill="#fff" stroke="#1a1a1a" stroke-width="2.00"/><circle cx="298.6" cy="1048.4" r="5.46" fill="none" stroke="#1a1a1a" stroke-width="1.18"/><circle cx="298.6" cy="1048.4" r="3.09" fill="#1a1a1a"/><rect x="296.78" y="1047.95" width="3.64" height="0.91" fill="#fff"/><rect x="315.90" y="1024.10" width="20.80" height="2.2" fill="#1a1a1a"/><circle cx="326.3" cy="1025.2" r="8.19" fill="#fff" stroke="#1a1a1a" stroke-width="2.00"/><circle cx="326.3" cy="1025.2" r="5.46" fill="none" stroke="#1a1a1a" stroke-width="1.18"/><circle cx="326.3" cy="1025.2" r="3.09" fill="#1a1a1a"/><rect x="324.48" y="1024.75" width="3.64" height="0.91" fill="#fff"/><rect x="315.90" y="1047.30" width="20.80" height="2.2" fill="#1a1a1a"/><circle cx="326.3" cy="1048.4" r="8.19" fill="#fff" stroke="#1a1a1a" stroke-width="2.00"/><circle cx="326.3" cy="1048.4" r="5.46" fill="none" stroke="#1a1a1a" stroke-width="1.18"/><circle cx="326.3" cy="1048.4" r="3.09" fill="#1a1a1a"/><rect x="324.48" y="1047.95" width="3.64" height="0.91" fill="#fff"/><circle cx="231.5" cy="1037" r="2.6" fill="#1a1a1a"/><path d="M229.42 1037H233.58M231.5 1034.92V1039.08" stroke="#fff" stroke-width="0.65"/><circle cx="259" cy="1037" r="2.6" fill="#1a1a1a"/><path d="M256.92 1037H261.08M259 1034.92V1039.08" stroke="#fff" stroke-width="0.65"/><circle cx="313.5" cy="1017" r="2.6" fill="#1a1a1a"/><path d="M311.42 1017H315.58M313.5 1014.92V1019.08" stroke="#fff" stroke-width="0.65"/><circle cx="344.5" cy="1037" r="2.6" fill="#1a1a1a"/><path d="M342.42 1037H346.58M344.5 1034.92V1039.08" stroke="#fff" stroke-width="0.65"/><rect x="252.5" y="1031.5" width="1.8" height="3.2" fill="#777"/><rect x="280.5" y="1031.5" width="1.8" height="3.2" fill="#777"/><rect x="308" y="1031.5" width="1.8" height="3.2" fill="#777"/><rect x="335.5" y="1031.5" width="1.8" height="3.2" fill="#777"/><rect x="252.5" y="1054.5" width="1.8" height="3.2" fill="#777"/><rect x="280.5" y="1054.5" width="1.8" height="3.2" fill="#777"/><rect x="308" y="1054.5" width="1.8" height="3.2" fill="#777"/><rect x="335.5" y="1054.5" width="1.8" height="3.2" fill="#777"/><rect x="342.20" y="1024.10" width="19.20" height="2.2" fill="#1a1a1a"/><circle cx="351.8" cy="1025.2" r="7.47" fill="#fff" stroke="#1a1a1a" stroke-width="1.83"/><circle cx="351.8" cy="1025.2" r="4.98" fill="none" stroke="#1a1a1a" stroke-width="1.08"/><circle cx="351.8" cy="1025.2" r="2.82" fill="#1a1a1a"/><rect x="350.14" y="1024.79" width="3.32" height="0.83" fill="#fff"/><rect x="342.20" y="1047.30" width="19.20" height="2.2" fill="#1a1a1a"/><circle cx="351.8" cy="1048.4" r="7.30" fill="#fff" stroke="#1a1a1a" stroke-width="2.16"/><circle cx="351.8" cy="1048.4" r="4.32" fill="none" stroke="#1a1a1a" stroke-width="1.16"/><circle cx="351.8" cy="1048.4" r="1.33" fill="#1a1a1a"/><path d="M362 1016H373" stroke="#777" stroke-width="1.8" stroke-dasharray="1.2 0.5"/><path d="M362 1019H373" stroke="#777" stroke-width="1.4" stroke-dasharray="1.2 0.5"/><path d="M344 1063H358" stroke="#888" stroke-width="1.8" stroke-dasharray="1.2 0.5"/><path d="M344 1066H358" stroke="#888" stroke-width="1.4" stroke-dasharray="1.2 0.5"/><path d="M367.6 1030.5H388.1V1063.5H367.6Z" fill="none" stroke="#222" stroke-width="0.9"/><circle cx="377.5" cy="1030.6" r="5.28" fill="#fff" stroke="#1a1a1a" stroke-width="1.44"/><circle cx="377.5" cy="1030.6" r="3.30" fill="none" stroke="#444" stroke-width="0.60"/><circle cx="377.5" cy="1030.6" r="1.80" fill="#1a1a1a"/><circle cx="377.5" cy="1049.7" r="5.28" fill="#fff" stroke="#1a1a1a" stroke-width="1.44"/><circle cx="377.5" cy="1049.7" r="3.00" fill="none" stroke="#e0141e" stroke-width="1.80"/><circle cx="377.5" cy="1049.7" r="1.80" fill="#1a1a1a"/><circle cx="386.5" cy="1040" r="3.00" fill="#fff" stroke="#222" stroke-width="0.70"/><circle cx="386.5" cy="1040" r="1.80" fill="none" stroke="#444" stroke-width="0.40"/><path d="M383.95 1040H389.05M386.5 1037.45V1042.55" stroke="#333" stroke-width="0.50"/><path d="M370 1066H383" stroke="#888" stroke-width="1.8" stroke-dasharray="1.2 0.5"/><path d="M391.1 1051.6H413.4V1055.89L410.72 1059.4H393.78L391.1 1055.89Z" fill="#fff" stroke="#1a1a1a" stroke-width="1.40"/><path d="M394.44 1055.11H410.06" stroke="#1a1a1a" stroke-width="0.94"/><path d="M396 1064H408" stroke="#555" stroke-width="1.8" stroke-dasharray="1.2 0.5"/><circle cx="425.7" cy="1051.2" r="3.80" fill="#fff" stroke="#222" stroke-width="0.84"/><circle cx="425.7" cy="1051.2" r="2.28" fill="none" stroke="#444" stroke-width="0.46"/><path d="M422.47 1051.2H428.93M425.7 1047.97V1054.43" stroke="#333" stroke-width="0.61"/><circle cx="460.3" cy="1051.2" r="3.80" fill="#fff" stroke="#222" stroke-width="0.84"/><circle cx="460.3" cy="1051.2" r="2.28" fill="none" stroke="#444" stroke-width="0.46"/><path d="M457.07 1051.2H463.53M460.3 1047.97V1054.43" stroke="#333" stroke-width="0.61"/><path d="M430.00 1042.70H456.00L453.08 1059.70H432.92Z" fill="#fff" stroke="#1a1a1a" stroke-width="1"/><path d="M432.00 1044.70H454.00L452.60 1057.70H433.40Z" fill="#3a6cc4"/><circle cx="436.28" cy="1048.20" r="0.60" fill="#1b3f8a"/><circle cx="439.64" cy="1048.20" r="0.60" fill="#1b3f8a"/><circle cx="443.00" cy="1048.20" r="0.60" fill="#1b3f8a"/><circle cx="446.36" cy="1048.20" r="0.60" fill="#1b3f8a"/><circle cx="449.72" cy="1048.20" r="0.60" fill="#1b3f8a"/><circle cx="436.28" cy="1051.50" r="0.60" fill="#1b3f8a"/><circle cx="439.64" cy="1051.50" r="0.60" fill="#1b3f8a"/><circle cx="443.00" cy="1051.50" r="0.60" fill="#1b3f8a"/><circle cx="446.36" cy="1051.50" r="0.60" fill="#1b3f8a"/><circle cx="449.72" cy="1051.50" r="0.60" fill="#1b3f8a"/><circle cx="437.24" cy="1054.80" r="0.60" fill="#1b3f8a"/><circle cx="440.60" cy="1054.80" r="0.60" fill="#1b3f8a"/><circle cx="443.96" cy="1054.80" r="0.60" fill="#1b3f8a"/><circle cx="447.32" cy="1054.80" r="0.60" fill="#1b3f8a"/><circle cx="450.68" cy="1054.80" r="0.60" fill="#1b3f8a"/><path d="M437 1064H447" stroke="#555" stroke-width="1.8" stroke-dasharray="1.2 0.5"/><path d="M471.2 1029V1016.6H498.9V1029" fill="none" stroke="#1a1a1a" stroke-width="1.3"/><rect x="473.5" y="1017.4" width="6" height="3.4" fill="#f5e84a" stroke="#333" stroke-width="0.4"/><rect x="492" y="1017.4" width="5.7" height="3.4" fill="#3fb26a" stroke="#333" stroke-width="0.4"/><path d="M475.6 1029V1021.5H480.5V1019.5H489.5V1021.5H494.6V1029" fill="none" stroke="#1a1a1a" stroke-width="1"/><path d="M459 1026H468" stroke="#444" stroke-width="1.8" stroke-dasharray="1.2 0.5"/><rect x="466.3" y="1032.2" width="36.9" height="27.5" rx="3.5" fill="#fff" stroke="#1f74c2" stroke-width="2.3"/><path d="M472 1034.5V1050.2H499V1034.5" fill="none" stroke="#333" stroke-width="0.8"/><rect x="474.7" y="1037.2" width="20.7" height="9.5" fill="#fff" stroke="#1a1a1a" stroke-width="1.2"/><rect x="477" y="1039.3" width="16" height="2.6" fill="#1a1a1a"/><path d="M481 1053.6H491M489.3 1052.4L491.3 1053.6L489.3 1054.8M484 1052.3L485 1053.6M486 1053.6L487 1055" fill="none" stroke="#333" stroke-width="0.8"/><rect x="517.0" y="1016.7" width="50.50" height="25.70" fill="#fff" stroke="#1a1a1a" stroke-width="1"/><path d="M530.63 1023.90L533.66 1017.99L536.70 1023.90Z" fill="#fff" stroke="#1a1a1a" stroke-width="0.8"/><rect x="540.74" y="1017.73" width="17.17" height="2.83" fill="#1a1a1a"/><rect x="540.74" y="1020.56" width="17.17" height="3.86" fill="#fff" stroke="#1a1a1a" stroke-width="0.6"/><path d="M544.77 1022.48H553.87" stroke="#999" stroke-width="0.5"/><path d="M517.0 1025.18H567.5M517.0 1035.20H567.5" stroke="#1a1a1a" stroke-width="1.29"/><path d="M519.52 1028.01H564.98" stroke="#666" stroke-width="1.03" stroke-dasharray="2 0.8 3 1 1.5 0.8"/><path d="M532.15 1030.58H564.98" stroke="#666" stroke-width="1.03" stroke-dasharray="2 0.8 3 1 1.5 0.8"/><path d="M532.15 1032.89H564.98" stroke="#666" stroke-width="1.03" stroke-dasharray="2 0.8 3 1 1.5 0.8"/><path d="M519.52 1037.77H564.98" stroke="#666" stroke-width="1.03" stroke-dasharray="2 0.8 3 1 1.5 0.8"/><path d="M532.15 1040.09H564.98" stroke="#666" stroke-width="1.03" stroke-dasharray="2 0.8 3 1 1.5 0.8"/><rect x="505.6" y="1041.1" width="8.70" height="21.00" fill="#3fa85c" stroke="#1d5c2c" stroke-width="0.5"/><rect x="505.6" y="1041.1" width="8.70" height="6.30" fill="#6b8a4a"/><rect x="506.99" y="1041.94" width="1.57" height="4.62" fill="#c8782a"/><rect x="511.34" y="1041.94" width="1.57" height="4.62" fill="#c8782a"/><path d="M509.95 1041.10V1062.10" stroke="#1d5c2c" stroke-width="0.5"/><path d="M505.6 1050.55H514.3" stroke="#2a6e3a" stroke-width="0.5"/><rect x="514.3" y="1045.0" width="14.900000000000091" height="13.700000000000045" fill="#1a1a1a"/><circle cx="521.75" cy="1051.16" r="3.84" fill="#fff"/><circle cx="521.75" cy="1051.16" r="1.37" fill="#1a1a1a"/><path d="M505 1066.5H520" stroke="#444" stroke-width="1.8" stroke-dasharray="1.2 0.5"/><path d="M521 1065.5H530" stroke="#333" stroke-width="2.2" stroke-dasharray="1.2 0.5"/><path d="M507 1037.5H512" stroke="#333" stroke-width="1.2" stroke-dasharray="1.2 0.5"/><rect x="125.2" y="1097.5" width="455.9" height="56.7" fill="#fff" stroke="#1a1a1a" stroke-width="2.4"/><path d="M125.2 1105.4H581.1M125.2 1120.4H581.1M125.2 1145H581.1" stroke="#222" stroke-width="1"/><rect x="135.5" y="1099.6" width="15.5" height="3.2" rx="1.6" fill="#fff" stroke="#222" stroke-width="0.9"/><rect x="152.2" y="1099.6" width="15.5" height="3.2" rx="1.6" fill="#fff" stroke="#222" stroke-width="0.9"/><rect x="168.9" y="1099.6" width="15.5" height="3.2" rx="1.6" fill="#fff" stroke="#222" stroke-width="0.9"/><rect x="185.6" y="1099.6" width="15.5" height="3.2" rx="1.6" fill="#fff" stroke="#222" stroke-width="0.9"/><rect x="202.3" y="1099.6" width="15.5" height="3.2" rx="1.6" fill="#fff" stroke="#222" stroke-width="0.9"/><rect x="219.0" y="1099.6" width="15.5" height="3.2" rx="1.6" fill="#fff" stroke="#222" stroke-width="0.9"/><rect x="235.7" y="1099.6" width="15.5" height="3.2" rx="1.6" fill="#fff" stroke="#222" stroke-width="0.9"/><rect x="252.39999999999998" y="1099.6" width="15.5" height="3.2" rx="1.6" fill="#fff" stroke="#222" stroke-width="0.9"/><rect x="269.1" y="1099.6" width="15.5" height="3.2" rx="1.6" fill="#fff" stroke="#222" stroke-width="0.9"/><rect x="285.79999999999995" y="1099.6" width="15.5" height="3.2" rx="1.6" fill="#fff" stroke="#222" stroke-width="0.9"/><rect x="306.0" y="1099.6" width="15.5" height="3.2" rx="1.6" fill="#fff" stroke="#222" stroke-width="0.9"/><rect x="322.7" y="1099.6" width="15.5" height="3.2" rx="1.6" fill="#fff" stroke="#222" stroke-width="0.9"/><rect x="339.4" y="1099.6" width="15.5" height="3.2" rx="1.6" fill="#fff" stroke="#222" stroke-width="0.9"/><rect x="356.1" y="1099.6" width="15.5" height="3.2" rx="1.6" fill="#fff" stroke="#222" stroke-width="0.9"/><rect x="372.8" y="1099.6" width="15.5" height="3.2" rx="1.6" fill="#fff" stroke="#222" stroke-width="0.9"/><rect x="411" y="1104" width="1.6" height="1.5" fill="#e33"/><rect x="447" y="1099.4" width="24.0" height="3.8" rx="1.9" fill="#fff" stroke="#222" stroke-width="0.9"/><rect x="472.5" y="1099.4" width="19.5" height="3.8" rx="1.9" fill="#fff" stroke="#222" stroke-width="0.9"/><rect x="494" y="1099.4" width="24.0" height="3.8" rx="1.9" fill="#fff" stroke="#222" stroke-width="0.9"/><rect x="520" y="1099.4" width="20.0" height="3.8" rx="1.9" fill="#fff" stroke="#222" stroke-width="0.9"/><rect x="541" y="1099.4" width="22.0" height="3.8" rx="1.9" fill="#fff" stroke="#222" stroke-width="0.9"/><rect x="562" y="1111" width="13.0" height="3.0" rx="1.5" fill="#fff" stroke="#222" stroke-width="0.9"/><rect x="562" y="1107" width="13.0" height="3.0" rx="1.5" fill="#fff" stroke="#222" stroke-width="0.9"/><path d="M541 1113H557" stroke="#777" stroke-width="1.3" stroke-dasharray="1.2 0.5"/><rect x="322.5" y="1113.9" width="60.7" height="23.3" rx="5.8" fill="#fff" stroke="#222" stroke-width="1.5"/><rect x="326.1" y="1117.3" width="53.5" height="16.5" rx="2.8" fill="#fff" stroke="#333" stroke-width="1.5"/><rect x="329.0" y="1119.3" width="47.7" height="12.8" rx="1.2" fill="#fff" stroke="#555" stroke-width="0.7"/><text x="335.6" y="1129.2" font-family="Liberation Sans" font-weight="bold" font-size="9.1" fill="#111">K</text><text x="342.8" y="1126.6" font-family="Liberation Sans" font-weight="bold" font-style="italic" font-size="6.3" fill="#111" textLength="26.7" lengthAdjust="spacingAndGlyphs">GUARD</text><path d="M345.3 1128.6H365.6" stroke="#222" stroke-width="1.40" stroke-dasharray="1.5 0.6"/><rect x="129.5" y="1129.7" width="37" height="19.9" rx="3" fill="none" stroke="#1f74c2" stroke-width="2"/><rect x="145.3" y="1134.9" width="16.2" height="8.7" rx="2" fill="#fff" stroke="#1a1a1a" stroke-width="1.3"/><rect x="147.3" y="1136.7" width="12.2" height="2.4" fill="#1a1a1a"/><path d="M136 1139H142.5M141.3 1138L143 1139L141.3 1140M138 1139L139.5 1137.8H140.5M139 1139L140.5 1140.2H141.5" fill="none" stroke="#333" stroke-width="0.7"/><circle cx="136" cy="1139" r="0.8" fill="#333"/><text x="169" y="1141.5" font-family="Liberation Sans" font-size="6.2" fill="#333" textLength="79" lengthAdjust="spacingAndGlyphs">16 Channel Digital Video Recorder</text><rect x="127.3" y="1163.8" width="451.2" height="55.8" fill="#fff" stroke="#1a1a1a" stroke-width="2.4"/><path d="M131.3 1167.8H573.5V1215.6H131.3Z" fill="none" stroke="#333" stroke-width="0.8"/><path d="M127.3 1163.8L131.3 1167.8M578.5 1163.8L573.5 1167.8M127.3 1219.6L131.3 1215.6M578.5 1219.6L573.5 1215.6" stroke="#333" stroke-width="0.8"/><circle cx="134" cy="1191.5" r="4.00" fill="#fff" stroke="#222" stroke-width="0.88"/><circle cx="134" cy="1191.5" r="2.40" fill="none" stroke="#444" stroke-width="0.48"/><path d="M130.60 1191.5H137.40M134 1188.10V1194.90" stroke="#333" stroke-width="0.64"/><circle cx="571.5" cy="1191" r="4.00" fill="#fff" stroke="#222" stroke-width="0.88"/><circle cx="571.5" cy="1191" r="2.40" fill="none" stroke="#444" stroke-width="0.48"/><path d="M568.10 1191H574.90M571.5 1187.60V1194.40" stroke="#333" stroke-width="0.64"/><circle cx="225" cy="1169.5" r="3.80" fill="#fff" stroke="#222" stroke-width="0.84"/><circle cx="225" cy="1169.5" r="2.28" fill="none" stroke="#444" stroke-width="0.46"/><path d="M221.77 1169.5H228.23M225 1166.27V1172.73" stroke="#333" stroke-width="0.61"/><path d="M147.7 1181.8H300.5M147.7 1181.8V1200M300.5 1181.8V1200" stroke="#222" stroke-width="0.9"/><path d="M147.7 1205V1213.5H300.5V1205" fill="none" stroke="#222" stroke-width="0.9"/><rect x="211" y="1211" width="25" height="5" fill="#fff"/><path d="M212 1213.5H235" stroke="#888" stroke-width="1.4" stroke-dasharray="1.2 0.5"/><rect x="139.40" y="1180.70" width="16.60" height="2.2" fill="#1a1a1a"/><circle cx="147.7" cy="1181.8" r="7.0" fill="#1a1a1a" stroke="#1a1a1a" stroke-width="1" stroke-dasharray="1.2 1.2"/><circle cx="147.7" cy="1181.8" r="4.34" fill="none" stroke="#fff" stroke-width="0.84"/><circle cx="147.7" cy="1181.8" r="2.10" fill="#fff"/><circle cx="147.7" cy="1181.8" r="0.84" fill="#1a1a1a"/><rect x="139.40" y="1198.90" width="16.60" height="2.2" fill="#1a1a1a"/><circle cx="147.7" cy="1200" r="7.0" fill="#1a1a1a" stroke="#1a1a1a" stroke-width="1" stroke-dasharray="1.2 1.2"/><circle cx="147.7" cy="1200" r="4.34" fill="none" stroke="#fff" stroke-width="0.84"/><circle cx="147.7" cy="1200" r="2.10" fill="#fff"/><circle cx="147.7" cy="1200" r="0.84" fill="#1a1a1a"/><rect x="161.20" y="1180.70" width="16.60" height="2.2" fill="#1a1a1a"/><circle cx="169.5" cy="1181.8" r="7.0" fill="#1a1a1a" stroke="#1a1a1a" stroke-width="1" stroke-dasharray="1.2 1.2"/><circle cx="169.5" cy="1181.8" r="4.34" fill="none" stroke="#fff" stroke-width="0.84"/><circle cx="169.5" cy="1181.8" r="2.10" fill="#fff"/><circle cx="169.5" cy="1181.8" r="0.84" fill="#1a1a1a"/><rect x="161.20" y="1198.90" width="16.60" height="2.2" fill="#1a1a1a"/><circle cx="169.5" cy="1200" r="7.0" fill="#1a1a1a" stroke="#1a1a1a" stroke-width="1" stroke-dasharray="1.2 1.2"/><circle cx="169.5" cy="1200" r="4.34" fill="none" stroke="#fff" stroke-width="0.84"/><circle cx="169.5" cy="1200" r="2.10" fill="#fff"/><circle cx="169.5" cy="1200" r="0.84" fill="#1a1a1a"/><rect x="183.10" y="1180.70" width="16.60" height="2.2" fill="#1a1a1a"/><circle cx="191.4" cy="1181.8" r="7.0" fill="#1a1a1a" stroke="#1a1a1a" stroke-width="1" stroke-dasharray="1.2 1.2"/><circle cx="191.4" cy="1181.8" r="4.34" fill="none" stroke="#fff" stroke-width="0.84"/><circle cx="191.4" cy="1181.8" r="2.10" fill="#fff"/><circle cx="191.4" cy="1181.8" r="0.84" fill="#1a1a1a"/><rect x="183.10" y="1198.90" width="16.60" height="2.2" fill="#1a1a1a"/><circle cx="191.4" cy="1200" r="7.0" fill="#1a1a1a" stroke="#1a1a1a" stroke-width="1" stroke-dasharray="1.2 1.2"/><circle cx="191.4" cy="1200" r="4.34" fill="none" stroke="#fff" stroke-width="0.84"/><circle cx="191.4" cy="1200" r="2.10" fill="#fff"/><circle cx="191.4" cy="1200" r="0.84" fill="#1a1a1a"/><rect x="204.90" y="1180.70" width="16.60" height="2.2" fill="#1a1a1a"/><circle cx="213.2" cy="1181.8" r="7.0" fill="#1a1a1a" stroke="#1a1a1a" stroke-width="1" stroke-dasharray="1.2 1.2"/><circle cx="213.2" cy="1181.8" r="4.34" fill="none" stroke="#fff" stroke-width="0.84"/><circle cx="213.2" cy="1181.8" r="2.10" fill="#fff"/><circle cx="213.2" cy="1181.8" r="0.84" fill="#1a1a1a"/><rect x="204.90" y="1198.90" width="16.60" height="2.2" fill="#1a1a1a"/><circle cx="213.2" cy="1200" r="7.0" fill="#1a1a1a" stroke="#1a1a1a" stroke-width="1" stroke-dasharray="1.2 1.2"/><circle cx="213.2" cy="1200" r="4.34" fill="none" stroke="#fff" stroke-width="0.84"/><circle cx="213.2" cy="1200" r="2.10" fill="#fff"/><circle cx="213.2" cy="1200" r="0.84" fill="#1a1a1a"/><rect x="226.70" y="1180.70" width="16.60" height="2.2" fill="#1a1a1a"/><circle cx="235.0" cy="1181.8" r="7.0" fill="#1a1a1a" stroke="#1a1a1a" stroke-width="1" stroke-dasharray="1.2 1.2"/><circle cx="235.0" cy="1181.8" r="4.34" fill="none" stroke="#fff" stroke-width="0.84"/><circle cx="235.0" cy="1181.8" r="2.10" fill="#fff"/><circle cx="235.0" cy="1181.8" r="0.84" fill="#1a1a1a"/><rect x="226.70" y="1198.90" width="16.60" height="2.2" fill="#1a1a1a"/><circle cx="235.0" cy="1200" r="7.0" fill="#1a1a1a" stroke="#1a1a1a" stroke-width="1" stroke-dasharray="1.2 1.2"/><circle cx="235.0" cy="1200" r="4.34" fill="none" stroke="#fff" stroke-width="0.84"/><circle cx="235.0" cy="1200" r="2.10" fill="#fff"/><circle cx="235.0" cy="1200" r="0.84" fill="#1a1a1a"/><rect x="248.50" y="1180.70" width="16.60" height="2.2" fill="#1a1a1a"/><circle cx="256.8" cy="1181.8" r="7.0" fill="#1a1a1a" stroke="#1a1a1a" stroke-width="1" stroke-dasharray="1.2 1.2"/><circle cx="256.8" cy="1181.8" r="4.34" fill="none" stroke="#fff" stroke-width="0.84"/><circle cx="256.8" cy="1181.8" r="2.10" fill="#fff"/><circle cx="256.8" cy="1181.8" r="0.84" fill="#1a1a1a"/><rect x="248.50" y="1198.90" width="16.60" height="2.2" fill="#1a1a1a"/><circle cx="256.8" cy="1200" r="7.0" fill="#1a1a1a" stroke="#1a1a1a" stroke-width="1" stroke-dasharray="1.2 1.2"/><circle cx="256.8" cy="1200" r="4.34" fill="none" stroke="#fff" stroke-width="0.84"/><circle cx="256.8" cy="1200" r="2.10" fill="#fff"/><circle cx="256.8" cy="1200" r="0.84" fill="#1a1a1a"/><rect x="270.40" y="1180.70" width="16.60" height="2.2" fill="#1a1a1a"/><circle cx="278.7" cy="1181.8" r="7.0" fill="#1a1a1a" stroke="#1a1a1a" stroke-width="1" stroke-dasharray="1.2 1.2"/><circle cx="278.7" cy="1181.8" r="4.34" fill="none" stroke="#fff" stroke-width="0.84"/><circle cx="278.7" cy="1181.8" r="2.10" fill="#fff"/><circle cx="278.7" cy="1181.8" r="0.84" fill="#1a1a1a"/><rect x="270.40" y="1198.90" width="16.60" height="2.2" fill="#1a1a1a"/><circle cx="278.7" cy="1200" r="7.0" fill="#1a1a1a" stroke="#1a1a1a" stroke-width="1" stroke-dasharray="1.2 1.2"/><circle cx="278.7" cy="1200" r="4.34" fill="none" stroke="#fff" stroke-width="0.84"/><circle cx="278.7" cy="1200" r="2.10" fill="#fff"/><circle cx="278.7" cy="1200" r="0.84" fill="#1a1a1a"/><rect x="292.20" y="1180.70" width="16.60" height="2.2" fill="#1a1a1a"/><circle cx="300.5" cy="1181.8" r="7.0" fill="#1a1a1a" stroke="#1a1a1a" stroke-width="1" stroke-dasharray="1.2 1.2"/><circle cx="300.5" cy="1181.8" r="4.34" fill="none" stroke="#fff" stroke-width="0.84"/><circle cx="300.5" cy="1181.8" r="2.10" fill="#fff"/><circle cx="300.5" cy="1181.8" r="0.84" fill="#1a1a1a"/><rect x="292.20" y="1198.90" width="16.60" height="2.2" fill="#1a1a1a"/><circle cx="300.5" cy="1200" r="7.0" fill="#1a1a1a" stroke="#1a1a1a" stroke-width="1" stroke-dasharray="1.2 1.2"/><circle cx="300.5" cy="1200" r="4.34" fill="none" stroke="#fff" stroke-width="0.84"/><circle cx="300.5" cy="1200" r="2.10" fill="#fff"/><circle cx="300.5" cy="1200" r="0.84" fill="#1a1a1a"/><path d="M159.5 1173.1L161.9 1175.5L159.5 1177.9L157.1 1175.5Z" fill="#1a1a1a"/><path d="M202.5 1173.1L204.9 1175.5L202.5 1177.9L200.1 1175.5Z" fill="#1a1a1a"/><path d="M246.5 1173.1L248.9 1175.5L246.5 1177.9L244.1 1175.5Z" fill="#1a1a1a"/><path d="M289.5 1173.1L291.9 1175.5L289.5 1177.9L287.1 1175.5Z" fill="#1a1a1a"/><path d="M313 1188.6L315.4 1191L313 1193.4L310.6 1191Z" fill="#1a1a1a"/><rect x="155.7" y="1186" width="2.4" height="1.5" fill="#777"/><rect x="155.7" y="1204" width="2.4" height="1.5" fill="#777"/><rect x="177.5" y="1186" width="2.4" height="1.5" fill="#777"/><rect x="177.5" y="1204" width="2.4" height="1.5" fill="#777"/><rect x="199.4" y="1186" width="2.4" height="1.5" fill="#777"/><rect x="199.4" y="1204" width="2.4" height="1.5" fill="#777"/><rect x="221.2" y="1186" width="2.4" height="1.5" fill="#777"/><rect x="221.2" y="1204" width="2.4" height="1.5" fill="#777"/><rect x="243.0" y="1186" width="2.4" height="1.5" fill="#777"/><rect x="243.0" y="1204" width="2.4" height="1.5" fill="#777"/><rect x="264.8" y="1186" width="2.4" height="1.5" fill="#777"/><rect x="264.8" y="1204" width="2.4" height="1.5" fill="#777"/><rect x="286.7" y="1186" width="2.4" height="1.5" fill="#777"/><rect x="286.7" y="1204" width="2.4" height="1.5" fill="#777"/><rect x="308.5" y="1186" width="2.4" height="1.5" fill="#777"/><rect x="308.5" y="1204" width="2.4" height="1.5" fill="#777"/><rect x="313.30" y="1180.70" width="17.00" height="2.2" fill="#1a1a1a"/><circle cx="321.8" cy="1181.8" r="7.2" fill="#1a1a1a" stroke="#1a1a1a" stroke-width="1" stroke-dasharray="1.2 1.2"/><circle cx="321.8" cy="1181.8" r="4.46" fill="none" stroke="#fff" stroke-width="0.86"/><circle cx="321.8" cy="1181.8" r="2.16" fill="#fff"/><circle cx="321.8" cy="1181.8" r="0.86" fill="#1a1a1a"/><rect x="313.30" y="1198.90" width="17.00" height="2.2" fill="#1a1a1a"/><circle cx="321.8" cy="1200" r="6.34" fill="#fff" stroke="#1a1a1a" stroke-width="1.87"/><circle cx="321.8" cy="1200" r="3.74" fill="none" stroke="#1a1a1a" stroke-width="1.01"/><circle cx="321.8" cy="1200" r="1.15" fill="#1a1a1a"/><path d="M313 1170H330" stroke="#888" stroke-width="1.3" stroke-dasharray="1.2 0.5"/><path d="M315 1212.5H329" stroke="#888" stroke-width="1.8" stroke-dasharray="1.2 0.5"/><path d="M341.4 1185H358.9M341.4 1201.4V1211H358.9V1201.4M341.4 1185V1201.4M358.9 1185V1201.4" fill="none" stroke="#222" stroke-width="0.8"/><circle cx="341.4" cy="1185" r="4.05" fill="#fff" stroke="#1a1a1a" stroke-width="1.10"/><circle cx="341.4" cy="1185" r="2.53" fill="none" stroke="#444" stroke-width="0.46"/><circle cx="341.4" cy="1185" r="1.38" fill="#1a1a1a"/><circle cx="358.9" cy="1185" r="4.05" fill="#fff" stroke="#1a1a1a" stroke-width="1.10"/><circle cx="358.9" cy="1185" r="2.53" fill="none" stroke="#444" stroke-width="0.46"/><circle cx="358.9" cy="1185" r="1.38" fill="#1a1a1a"/><circle cx="341.4" cy="1201.4" r="4.05" fill="#fff" stroke="#1a1a1a" stroke-width="1.10"/><circle cx="341.4" cy="1201.4" r="2.30" fill="none" stroke="#e0141e" stroke-width="1.38"/><circle cx="341.4" cy="1201.4" r="1.38" fill="#1a1a1a"/><circle cx="358.9" cy="1201.4" r="4.05" fill="#fff" stroke="#1a1a1a" stroke-width="1.10"/><circle cx="358.9" cy="1201.4" r="2.30" fill="none" stroke="#e0141e" stroke-width="1.38"/><circle cx="358.9" cy="1201.4" r="1.38" fill="#1a1a1a"/><circle cx="350" cy="1193" r="2.2" fill="#1a1a1a"/><path d="M348.24 1193H351.76M350 1191.24V1194.76" stroke="#fff" stroke-width="0.55"/><circle cx="367.5" cy="1193" r="2.0" fill="#1a1a1a"/><path d="M365.90 1193H369.10M367.5 1191.40V1194.60" stroke="#fff" stroke-width="0.50"/><circle cx="376.3" cy="1177.6999999999998" r="3.00" fill="#fff" stroke="#222" stroke-width="0.70"/><circle cx="376.3" cy="1177.6999999999998" r="1.80" fill="none" stroke="#444" stroke-width="0.40"/><path d="M373.75 1177.6999999999998H378.85M376.3 1175.15V1180.25" stroke="#333" stroke-width="0.50"/><circle cx="406.5" cy="1177.6999999999998" r="3.00" fill="#fff" stroke="#222" stroke-width="0.70"/><circle cx="406.5" cy="1177.6999999999998" r="1.80" fill="none" stroke="#444" stroke-width="0.40"/><path d="M403.95 1177.6999999999998H409.05M406.5 1175.15V1180.25" stroke="#333" stroke-width="0.50"/><path d="M379.80 1170.80H403.00L400.30 1184.60H382.50Z" fill="#fff" stroke="#1a1a1a" stroke-width="1"/><path d="M381.80 1172.80H401.00L399.88 1182.60H382.92Z" fill="#3a6cc4"/><circle cx="385.46" cy="1175.34" r="0.47" fill="#1b3f8a"/><circle cx="388.43" cy="1175.34" r="0.47" fill="#1b3f8a"/><circle cx="391.40" cy="1175.34" r="0.47" fill="#1b3f8a"/><circle cx="394.37" cy="1175.34" r="0.47" fill="#1b3f8a"/><circle cx="397.34" cy="1175.34" r="0.47" fill="#1b3f8a"/><circle cx="385.46" cy="1177.94" r="0.47" fill="#1b3f8a"/><circle cx="388.43" cy="1177.94" r="0.47" fill="#1b3f8a"/><circle cx="391.40" cy="1177.94" r="0.47" fill="#1b3f8a"/><circle cx="394.37" cy="1177.94" r="0.47" fill="#1b3f8a"/><circle cx="397.34" cy="1177.94" r="0.47" fill="#1b3f8a"/><circle cx="386.31" cy="1180.53" r="0.47" fill="#1b3f8a"/><circle cx="389.28" cy="1180.53" r="0.47" fill="#1b3f8a"/><circle cx="392.25" cy="1180.53" r="0.47" fill="#1b3f8a"/><circle cx="395.22" cy="1180.53" r="0.47" fill="#1b3f8a"/><circle cx="398.18" cy="1180.53" r="0.47" fill="#1b3f8a"/><path d="M386 1187.5H396" stroke="#777" stroke-width="1.4" stroke-dasharray="1.2 0.5"/><rect x="411.3" y="1168.6" width="46.10" height="17.10" fill="#3fa85c" stroke="#1d5c2c" stroke-width="0.5"/><rect x="411.3" y="1168.6" width="46.10" height="5.13" fill="#6b8a4a"/><rect x="412.53" y="1169.28" width="1.38" height="3.76" fill="#c8782a"/><rect x="416.37" y="1169.28" width="1.38" height="3.76" fill="#c8782a"/><rect x="420.21" y="1169.28" width="1.38" height="3.76" fill="#c8782a"/><rect x="424.05" y="1169.28" width="1.38" height="3.76" fill="#c8782a"/><rect x="427.90" y="1169.28" width="1.38" height="3.76" fill="#c8782a"/><rect x="431.74" y="1169.28" width="1.38" height="3.76" fill="#c8782a"/><rect x="435.58" y="1169.28" width="1.38" height="3.76" fill="#c8782a"/><rect x="439.42" y="1169.28" width="1.38" height="3.76" fill="#c8782a"/><rect x="443.26" y="1169.28" width="1.38" height="3.76" fill="#c8782a"/><rect x="447.10" y="1169.28" width="1.38" height="3.76" fill="#c8782a"/><rect x="450.95" y="1169.28" width="1.38" height="3.76" fill="#c8782a"/><rect x="454.79" y="1169.28" width="1.38" height="3.76" fill="#c8782a"/><path d="M415.14 1168.60V1185.70" stroke="#1d5c2c" stroke-width="0.5"/><path d="M418.98 1168.60V1185.70" stroke="#1d5c2c" stroke-width="0.5"/><path d="M422.82 1168.60V1185.70" stroke="#1d5c2c" stroke-width="0.5"/><path d="M426.67 1168.60V1185.70" stroke="#1d5c2c" stroke-width="0.5"/><path d="M430.51 1168.60V1185.70" stroke="#1d5c2c" stroke-width="0.5"/><path d="M434.35 1168.60V1185.70" stroke="#1d5c2c" stroke-width="0.5"/><path d="M438.19 1168.60V1185.70" stroke="#1d5c2c" stroke-width="0.5"/><path d="M442.03 1168.60V1185.70" stroke="#1d5c2c" stroke-width="0.5"/><path d="M445.88 1168.60V1185.70" stroke="#1d5c2c" stroke-width="0.5"/><path d="M449.72 1168.60V1185.70" stroke="#1d5c2c" stroke-width="0.5"/><path d="M453.56 1168.60V1185.70" stroke="#1d5c2c" stroke-width="0.5"/><path d="M411.3 1176.30H457.4" stroke="#2a6e3a" stroke-width="0.5"/><path d="M412 1188H438" stroke="#555" stroke-width="1.2" stroke-dasharray="1.2 0.5"/><path d="M441 1188H457" stroke="#555" stroke-width="1.2" stroke-dasharray="1.2 0.5"/><circle cx="463.7" cy="1177.8" r="4.4" fill="#fff" stroke="#1a1a1a" stroke-width="1.3"/><circle cx="463.7" cy="1177.8" r="2.2" fill="#888"/><circle cx="470.5" cy="1169.5" r="3.40" fill="#fff" stroke="#222" stroke-width="0.75"/><circle cx="470.5" cy="1169.5" r="2.04" fill="none" stroke="#444" stroke-width="0.41"/><path d="M467.61 1169.5H473.39M470.5 1166.61V1172.39" stroke="#333" stroke-width="0.54"/><path d="M457 1187H470" stroke="#666" stroke-width="1.3" stroke-dasharray="1.2 0.5"/><path d="M373.0 1202.2H391.0V1205.61L388.84 1208.4H375.16L373.0 1205.61Z" fill="#fff" stroke="#1a1a1a" stroke-width="1.12"/><path d="M375.70 1204.99H388.30" stroke="#1a1a1a" stroke-width="0.74"/><path d="M375 1212.5H388" stroke="#666" stroke-width="1.5" stroke-dasharray="1.2 0.5"/><path d="M394 1210.5V1193.5H412" fill="none" stroke="#1a1a1a" stroke-width="1.2"/><path d="M397 1208V1197H402V1199.5H407V1203H411" fill="none" stroke="#1a1a1a" stroke-width="0.9"/><rect x="395.5" y="1206" width="4.5" height="3" fill="#3fb26a"/><rect x="406" y="1206" width="4.5" height="3" fill="#f5e84a"/><path d="M397 1213H409" stroke="#666" stroke-width="1.5" stroke-dasharray="1.2 0.5"/><rect x="413.6" y="1196.3" width="26.8" height="24.6" rx="3.2" fill="#fff" stroke="#1f74c2" stroke-width="2.2"/><rect x="419.2" y="1201.4" width="16.4" height="6.5" rx="1.2" fill="#fff" stroke="#1a1a1a" stroke-width="1.2"/><rect x="421.2" y="1202.9" width="12.4" height="2.2" fill="#1a1a1a"/><path d="M423.5 1214H431M429.5 1212.8L431.5 1214L429.5 1215.2" fill="none" stroke="#444" stroke-width="0.8"/><rect x="444.3" y="1197.4" width="8.899999999999977" height="13.099999999999909" fill="#1a1a1a"/><circle cx="448.75" cy="1203.30" r="2.49" fill="#fff"/><circle cx="448.75" cy="1203.30" r="0.89" fill="#1a1a1a"/><path d="M444 1213.5H453" stroke="#333" stroke-width="2.0" stroke-dasharray="1.2 0.5"/><rect x="456.6" y="1189" width="11.8" height="26.3" rx="2" fill="#fff" stroke="#1a1a1a" stroke-width="1.2"/><rect x="459.5" y="1192.5" width="6" height="19" rx="3" fill="#fff" stroke="#1a1a1a" stroke-width="1"/><path d="M462.5 1195.5V1201" stroke="#1a1a1a" stroke-width="1"/><rect x="489.4" y="1179.1" width="60.20" height="30.10" fill="#fff" stroke="#1a1a1a" stroke-width="1"/><path d="M505.65 1187.53L509.27 1180.61L512.88 1187.53Z" fill="#fff" stroke="#1a1a1a" stroke-width="0.8"/><rect x="517.69" y="1180.30" width="20.47" height="3.31" fill="#1a1a1a"/><rect x="517.69" y="1183.62" width="20.47" height="4.52" fill="#fff" stroke="#1a1a1a" stroke-width="0.6"/><path d="M522.51 1185.87H533.35" stroke="#999" stroke-width="0.5"/><path d="M489.4 1189.03H549.6M489.4 1200.77H549.6" stroke="#1a1a1a" stroke-width="1.51"/><path d="M492.41 1192.34H546.59" stroke="#666" stroke-width="1.20" stroke-dasharray="2 0.8 3 1 1.5 0.8"/><path d="M507.46 1195.35H546.59" stroke="#666" stroke-width="1.20" stroke-dasharray="2 0.8 3 1 1.5 0.8"/><path d="M507.46 1198.06H546.59" stroke="#666" stroke-width="1.20" stroke-dasharray="2 0.8 3 1 1.5 0.8"/><path d="M492.41 1203.78H546.59" stroke="#666" stroke-width="1.20" stroke-dasharray="2 0.8 3 1 1.5 0.8"/><path d="M507.46 1206.49H546.59" stroke="#666" stroke-width="1.20" stroke-dasharray="2 0.8 3 1 1.5 0.8"/><rect x="596.3" y="997.2" width="83.7" height="83.2" rx="7.5" fill="#fff" stroke="#1f74c2" stroke-width="2.2"/><rect x="677" y="1035.5" width="6" height="10.5" fill="#fff"/><rect x="636" y="1077" width="10.2" height="6" fill="#fff"/><rect x="624" y="1033.2" width="35.6" height="14.5" fill="#fff" stroke="#1a1a1a" stroke-width="1.5"/><rect x="627.4" y="1036.2" width="28.5" height="5.4" fill="#333"/><path d="M637 1054.4H647.5M645.8 1053L648 1054.4L645.8 1055.8M640 1054.4L641.8 1052.6H643.5M642.5 1054.4L644 1056.2H645.5" fill="none" stroke="#333" stroke-width="0.9"/><circle cx="637" cy="1054.4" r="0.9" fill="#333"/><path d="M664 1040.5L673.7 1033V1038H686.2V1042.8H673.7V1048.1Z" fill="#1f74c2"/><path d="M641.1 1065.3L633.6 1074.9H638V1087.5H644.2V1074.9H648.9Z" fill="#1f74c2"/><rect x="631.6" y="1090" width="19.2" height="21" fill="#fff" stroke="#222" stroke-width="1.3"/><rect x="635.3" y="1098.3" width="3.6" height="3.6" fill="#fff" stroke="#222" stroke-width="0.9"/><rect x="643.5" y="1098.3" width="3.6" height="3.6" fill="#fff" stroke="#222" stroke-width="0.9"/><path d="M627.3 1110.8H655V1156.5Q655 1159 652.5 1159H629.8Q627.3 1159 627.3 1156.5Z" fill="#fff" stroke="#222" stroke-width="1.3"/><rect x="688.4" y="1032.2" width="20.4" height="18.7" fill="#fff" stroke="#222" stroke-width="1.3"/><rect x="697.3" y="1035.3" width="3.6" height="4.2" rx="0.8" fill="#fff" stroke="#222" stroke-width="0.9"/><rect x="697.3" y="1042.6" width="3.6" height="4.2" rx="0.8" fill="#fff" stroke="#222" stroke-width="0.9"/><path d="M708.8 1029.6H744L755.5 1034.3V1047.9L744 1053H708.8Z" fill="#fff" stroke="#222" stroke-width="1.3"/><rect x="711.5" y="1033.2" width="22.5" height="16.2" rx="3" fill="#fff" stroke="#555" stroke-width="0.9"/><path d="M714.5 1041.3H731M729 1039.3L731.5 1041.3L729 1043.3M719 1041.3L722 1037.5H725M721 1041.3L724 1045H727" fill="none" stroke="#222" stroke-width="1"/><circle cx="738" cy="1038.5" r="0.9" fill="#222"/><circle cx="738" cy="1044" r="0.9" fill="#222"/><path d="M755 1041.3H770Q779.3 1041.3 779.3 1051V1112Q779.5 1116 784.5 1118.5" fill="none" stroke="#1a1a1a" stroke-width="3.2"/><path d="M775.9 1121.8C781 1117 787 1115 793.5 1115.1C800 1115.3 806 1117 810.3 1120.1C818 1126 824 1133 826.2 1140.3C828 1146 828.5 1149 827.1 1152C825.5 1157 822 1161.5 818.7 1163.7C814.5 1165.8 811 1166 807 1165.4C802 1164.5 797.5 1163 793.5 1160.4C787 1155.5 782 1149.5 778.4 1143.6C775.5 1138.5 773.5 1134 773.8 1129.4C774 1126 774.5 1123.5 775.9 1121.8Z" fill="#fff" stroke="#1a1a1a" stroke-width="1.9"/><path d="M775.9 1130.2C781 1132 785 1134.5 787.7 1136.9C791 1140 794 1145 797.7 1148.6C801 1151.8 805 1153.6 808.6 1153.7C813 1153.8 818 1151.5 820.4 1148.6C823 1145 824 1142 823.7 1139.5" fill="none" stroke="#222" stroke-width="1"/><path d="M775.5 1131.5C781 1135.5 785.5 1140 789.4 1147C792 1151.5 795 1156.5 797.7 1160.4" fill="none" stroke="#222" stroke-width="0.9"/><path d="M776.5 1134C780 1137 783 1141 786 1146" fill="none" stroke="#666" stroke-width="0.6"/><path d="M782.6 1130.2L790.2 1121.8" fill="none" stroke="#222" stroke-width="0.9"/><path d="M784.5 1117.5C789 1116.5 796 1116.5 802 1118.5" fill="none" stroke="#222" stroke-width="0.8"/><ellipse cx="792" cy="1119.7" rx="4.6" ry="2.2" transform="rotate(20 792 1119.7)" fill="#fff" stroke="#222" stroke-width="0.9"/></svg>
<div class="a cap" style="left:417px;top:179.5px;letter-spacing:0.35px;">4-канальный и 8-канальный цифровые видеорегистраторы</div>
<div class="a cap" style="left:476px;top:278px;letter-spacing:0.38px;">16-канальный цифровой видеорегистратор</div>
<div class="a" style="left:207.5px;top:418px;font-size:11.7px;line-height:14px;color:#333;">Ноутбук, ПК</div>
<div class="a" style="left:291.5px;top:427px;font-size:11.7px;line-height:14px;color:#333;">Планшетный ПК</div>
<div class="a" style="left:372.5px;top:475px;font-size:11.9px;line-height:14px;color:#333;">Мобильные телефоны</div>
<div class="a" style="left:715.5px;top:462px;font-size:11px;line-height:14px;color:#333;">Кабель RJ-45</div>
<div class="a" style="left:557.5px;top:499.7px;font-size:22px;line-height:26px;color:#222;">Internet</div>
<div class="a" style="left:648px;top:396.5px;font-size:8.8px;font-weight:bold;line-height:10px;color:#222;">LAN</div>
<div class="a cap" style="left:151px;top:895px;letter-spacing:0.35px;">4-канальный и 8-канальный цифровые видеорегистраторы</div>
<div class="a cap" style="left:204px;top:1075.8px;letter-spacing:0.38px;">16-канальный цифровой видеорегистратор</div>
</body></html>
